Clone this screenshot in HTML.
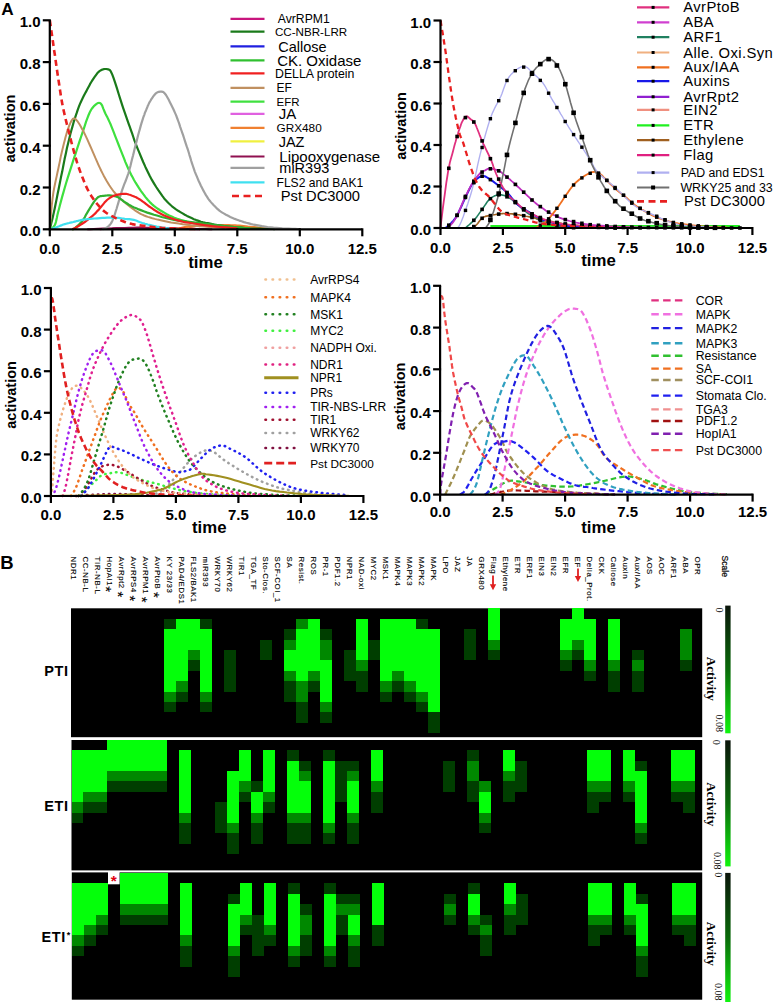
<!DOCTYPE html><html><head><meta charset="utf-8"><title>Figure</title>
<style>html,body{margin:0;padding:0;background:#fff;width:774px;height:1002px;overflow:hidden}svg{display:block}</style></head><body>
<svg width="774" height="1002" viewBox="0 0 774 1002">
<rect width="774" height="1002" fill="#fff"/>
<text x="1.2" y="14.6" font-size="17.2" font-weight="bold" font-family="Liberation Sans, sans-serif">A</text>
<path d="M99.8,229.3 L102.5,229.1 L106.3,228.9 L110.7,228.7 L115.5,228.4 L120.3,228.2 L124.8,228.0 L129.0,228.0 L133.1,227.9 L137.3,227.9 L141.5,228.0 L145.6,228.0 L149.8,228.0 L154.0,228.1 L158.1,228.2 L162.3,228.3 L166.5,228.4 L170.6,228.6 L174.8,228.7 L179.3,228.8 L184.1,228.9 L188.9,229.0 L193.3,229.1 L197.1,229.2 L199.8,229.3" fill="none" stroke="#c0207a" stroke-width="2.00" stroke-linejoin="round" stroke-linecap="butt"/>
<path d="M87.3,229.3 L90.0,229.2 L93.8,229.0 L98.2,228.8 L103.0,228.6 L107.8,228.4 L112.3,228.3 L116.5,228.1 L120.6,228.0 L124.8,227.9 L129.0,227.7 L133.1,227.7 L137.3,227.6 L141.5,227.6 L145.6,227.7 L149.8,227.8 L154.0,227.9 L158.1,228.0 L162.3,228.0 L166.5,228.1 L170.6,228.2 L174.8,228.3 L179.0,228.5 L183.1,228.6 L187.3,228.7 L191.8,228.8 L196.6,228.9 L201.4,229.0 L205.8,229.1 L209.6,229.2 L212.3,229.3" fill="none" stroke="#901050" stroke-width="2.00" stroke-linejoin="round" stroke-linecap="butt"/>
<path d="M174.8,229.3 L175.8,229.1 L177.2,228.7 L178.9,228.4 L180.7,228.0 L182.7,227.6 L184.8,227.2 L187.0,226.9 L189.5,226.6 L192.1,226.3 L194.8,226.0 L197.4,225.7 L199.8,225.5 L202.0,225.4 L204.2,225.3 L206.2,225.2 L208.2,225.2 L210.2,225.2 L212.3,225.1 L214.4,225.1 L216.5,225.1 L218.6,225.1 L220.6,225.1 L222.7,225.1 L224.8,225.1 L226.9,225.2 L229.0,225.2 L231.1,225.3 L233.1,225.3 L235.2,225.4 L237.3,225.5 L239.4,225.7 L241.5,225.9 L243.6,226.1 L245.6,226.3 L247.7,226.6 L249.8,226.8 L251.9,227.0 L254.0,227.2 L256.1,227.4 L258.1,227.7 L260.2,227.9 L262.3,228.0 L264.5,228.2 L266.9,228.4 L269.3,228.5 L271.6,228.7 L273.4,228.8 L274.8,228.9" fill="none" stroke="#f08030" stroke-width="2.20" stroke-linejoin="round" stroke-linecap="butt"/>
<path d="M49.8,229.3 L50.2,227.6 L50.8,225.4 L51.4,222.8 L52.2,219.7 L53.0,216.3 L53.8,212.6 L54.7,208.5 L55.6,204.0 L56.6,199.1 L57.6,194.0 L58.7,188.7 L59.8,183.3 L60.9,177.6 L62.2,171.6 L63.4,165.3 L64.6,159.1 L65.9,153.2 L67.0,147.8 L68.2,142.9 L69.3,138.4 L70.3,134.2 L71.4,130.2 L72.5,126.4 L73.5,122.7 L74.6,119.2 L75.7,115.8 L76.8,112.7 L77.8,109.6 L78.9,106.7 L80.0,103.9 L81.2,101.2 L82.5,98.6 L83.7,96.1 L84.9,93.7 L86.2,91.4 L87.3,89.3 L88.4,87.3 L89.4,85.4 L90.3,83.6 L91.3,82.0 L92.3,80.4 L93.3,78.8 L94.3,77.3 L95.4,75.8 L96.5,74.3 L97.5,73.0 L98.7,71.8 L99.8,70.9 L101.0,70.2 L102.3,69.6 L103.6,69.2 L104.9,69.0 L106.2,69.0 L107.3,69.2 L108.2,69.4 L109.0,69.6 L109.7,70.0 L110.4,70.8 L111.2,72.3 L112.3,74.6 L113.6,78.2 L115.2,82.9 L116.9,88.2 L118.6,93.7 L120.3,99.1 L121.8,103.9 L123.2,108.1 L124.6,112.1 L125.9,115.9 L127.2,119.6 L128.5,123.3 L129.8,126.9 L131.0,130.4 L132.2,133.7 L133.3,137.0 L134.4,140.4 L135.8,143.9 L137.3,147.8 L139.1,152.2 L141.1,157.0 L143.2,162.0 L145.4,166.9 L147.7,171.7 L149.8,176.0 L151.9,179.9 L154.1,183.6 L156.2,187.0 L158.3,190.2 L160.4,193.2 L162.3,195.9 L164.0,198.2 L165.6,200.1 L167.2,201.8 L168.7,203.3 L170.3,204.8 L172.0,206.3 L174.0,207.8 L176.0,209.3 L178.2,210.8 L180.4,212.1 L182.6,213.4 L184.8,214.7 L187.0,215.9 L189.3,217.0 L191.6,218.1 L193.9,219.2 L196.2,220.1 L198.6,220.9 L200.9,221.7 L203.2,222.3 L205.5,222.8 L207.8,223.2 L210.1,223.6 L212.3,224.1 L214.3,224.5 L216.1,224.8 L217.8,225.2 L219.8,225.5 L222.0,225.8 L224.8,226.2 L228.2,226.5 L232.2,226.9 L236.5,227.3 L241.0,227.7 L245.5,228.0 L249.8,228.3 L254.3,228.5 L259.1,228.7 L263.9,228.8 L268.3,228.9 L272.1,229.0 L274.8,229.1" fill="none" stroke="#1a7a1a" stroke-width="2.20" stroke-linejoin="round" stroke-linecap="butt"/>
<path d="M49.8,229.3 L50.4,228.9 L51.2,228.5 L52.1,228.0 L53.1,227.3 L54.0,226.3 L54.8,225.1 L55.4,223.7 L55.9,222.0 L56.3,220.2 L56.8,218.0 L57.3,215.5 L58.0,212.6 L58.9,209.2 L59.9,205.3 L61.0,201.1 L62.2,196.6 L63.5,192.1 L64.8,187.5 L66.2,182.8 L67.7,177.9 L69.3,172.9 L70.9,167.8 L72.5,162.9 L74.0,158.2 L75.5,153.8 L76.9,149.4 L78.3,145.2 L79.6,141.1 L81.0,137.0 L82.3,133.2 L83.6,129.3 L84.9,125.4 L86.1,121.7 L87.4,118.1 L88.6,115.0 L89.8,112.3 L91.0,110.0 L92.2,108.2 L93.4,106.8 L94.5,105.6 L95.6,104.7 L96.5,103.9 L97.4,103.3 L98.2,103.0 L99.0,102.9 L99.7,103.0 L100.4,103.3 L101.0,103.9 L101.7,104.8 L102.3,105.9 L102.8,107.3 L103.4,108.9 L104.1,110.5 L104.8,112.3 L105.6,114.0 L106.5,115.7 L107.5,117.6 L108.5,119.7 L109.6,122.1 L110.8,124.8 L112.1,128.1 L113.6,131.8 L115.1,135.8 L116.7,139.9 L118.3,144.0 L119.8,147.8 L121.2,151.4 L122.7,155.1 L124.1,158.6 L125.4,162.1 L126.9,165.5 L128.3,168.7 L129.7,171.7 L131.1,174.6 L132.6,177.3 L134.0,180.0 L135.6,182.7 L137.3,185.4 L139.2,188.3 L141.2,191.3 L143.3,194.2 L145.5,197.1 L147.7,199.8 L149.8,202.1 L151.9,204.1 L153.9,205.9 L155.9,207.4 L157.9,208.8 L160.1,210.2 L162.3,211.5 L164.6,212.9 L166.8,214.2 L169.2,215.5 L171.7,216.6 L174.3,217.8 L177.3,218.9 L180.6,219.9 L184.2,220.8 L187.9,221.7 L191.8,222.6 L195.8,223.3 L199.8,224.1 L203.8,224.7 L207.9,225.3 L212.1,225.9 L216.4,226.4 L220.6,226.8 L224.8,227.2 L229.3,227.6 L234.1,227.9 L238.9,228.1 L243.3,228.4 L247.1,228.5 L249.8,228.7" fill="none" stroke="#3ee03e" stroke-width="2.20" stroke-linejoin="round" stroke-linecap="butt"/>
<path d="M49.8,229.3 L49.9,227.5 L50.1,225.1 L50.3,222.2 L50.5,219.1 L50.8,215.8 L51.0,212.6 L51.4,209.4 L51.7,206.0 L52.1,202.5 L52.5,199.0 L53.0,195.3 L53.5,191.7 L54.2,187.9 L55.0,184.0 L55.8,180.1 L56.7,176.1 L57.5,172.3 L58.3,168.7 L59.0,165.3 L59.7,162.1 L60.3,159.0 L60.9,155.9 L61.6,152.9 L62.3,149.9 L63.1,146.7 L63.9,143.5 L64.7,140.4 L65.5,137.3 L66.3,134.4 L67.0,131.9 L67.8,129.7 L68.5,127.7 L69.1,125.9 L69.8,124.3 L70.4,122.9 L71.0,121.7 L71.6,120.6 L72.2,119.7 L72.7,119.1 L73.3,118.6 L73.9,118.4 L74.5,118.5 L75.3,118.9 L76.1,119.6 L76.9,120.6 L77.8,121.7 L78.8,123.2 L79.8,124.8 L80.9,126.7 L82.1,128.9 L83.4,131.3 L84.7,133.9 L86.0,136.7 L87.3,139.4 L88.6,142.4 L90.0,145.5 L91.5,148.8 L92.9,152.1 L94.3,155.3 L95.5,158.2 L96.7,160.9 L97.8,163.4 L98.9,165.8 L100.0,168.1 L101.1,170.5 L102.3,172.9 L103.6,175.4 L105.0,177.9 L106.4,180.4 L107.9,182.9 L109.3,185.3 L110.8,187.5 L112.2,189.5 L113.6,191.3 L115.0,193.0 L116.5,194.6 L118.1,196.3 L119.8,198.0 L121.7,199.7 L123.8,201.6 L126.0,203.4 L128.2,205.2 L130.3,206.9 L132.3,208.4 L134.1,209.7 L135.7,210.9 L137.3,211.9 L138.9,212.9 L140.5,213.8 L142.3,214.7 L144.2,215.5 L146.0,216.2 L147.9,216.9 L150.0,217.5 L152.3,218.2 L154.8,218.9 L157.6,219.6 L160.7,220.3 L164.0,221.0 L167.5,221.7 L171.1,222.4 L174.8,223.0 L178.7,223.6 L182.8,224.2 L187.0,224.7 L191.3,225.3 L195.6,225.7 L199.8,226.2 L204.3,226.6 L209.1,227.0 L213.9,227.3 L218.3,227.6 L222.1,227.9 L224.8,228.0" fill="none" stroke="#c09060" stroke-width="2.00" stroke-linejoin="round" stroke-linecap="butt"/>
<path d="M102.3,229.3 L102.8,229.1 L103.6,228.9 L104.5,228.6 L105.4,228.3 L106.4,227.8 L107.3,227.2 L108.1,226.5 L109.0,225.7 L109.8,224.9 L110.6,223.8 L111.5,222.5 L112.3,220.9 L113.1,219.0 L114.0,216.8 L114.8,214.3 L115.6,211.7 L116.5,209.0 L117.3,206.3 L118.1,203.6 L118.9,200.9 L119.7,198.0 L120.6,195.2 L121.4,192.4 L122.3,189.6 L123.3,186.9 L124.3,184.1 L125.4,181.5 L126.4,178.8 L127.4,176.1 L128.3,173.5 L129.1,171.0 L129.7,168.5 L130.4,166.1 L131.0,163.6 L131.6,161.0 L132.3,158.2 L133.1,155.2 L133.9,151.9 L134.7,148.5 L135.6,145.0 L136.5,141.6 L137.3,138.4 L138.1,135.2 L139.0,132.0 L139.9,128.9 L140.7,125.9 L141.5,123.1 L142.3,120.6 L143.0,118.4 L143.6,116.5 L144.3,114.8 L144.8,113.2 L145.4,111.7 L146.1,110.2 L146.7,108.6 L147.3,107.2 L147.8,105.8 L148.5,104.4 L149.1,103.1 L149.8,101.8 L150.6,100.5 L151.4,99.1 L152.3,97.8 L153.1,96.6 L154.0,95.4 L154.8,94.5 L155.5,93.7 L156.2,93.1 L156.9,92.6 L157.6,92.2 L158.3,91.9 L159.1,91.8 L159.9,91.7 L160.8,91.6 L161.7,91.6 L162.7,91.8 L163.7,92.4 L164.8,93.5 L166.0,95.0 L167.3,97.2 L168.6,99.6 L169.9,102.2 L171.2,104.8 L172.3,107.0 L173.3,109.0 L174.1,110.8 L174.9,112.6 L175.7,114.4 L176.5,116.3 L177.3,118.5 L178.2,121.0 L179.2,123.7 L180.1,126.6 L181.1,129.5 L182.1,132.4 L183.1,135.2 L184.0,138.0 L184.9,140.8 L185.8,143.6 L186.7,146.4 L187.7,149.2 L188.6,152.0 L189.4,154.8 L190.3,157.6 L191.1,160.5 L192.0,163.3 L192.9,166.0 L193.8,168.7 L194.7,171.3 L195.7,173.8 L196.7,176.2 L197.7,178.6 L198.7,181.0 L199.8,183.3 L200.9,185.7 L202.1,188.1 L203.3,190.4 L204.6,192.7 L205.8,194.9 L207.1,196.9 L208.3,198.8 L209.6,200.5 L210.9,202.1 L212.2,203.6 L213.5,205.0 L214.8,206.3 L216.0,207.5 L217.1,208.6 L218.3,209.6 L219.4,210.6 L220.8,211.6 L222.3,212.6 L224.1,213.6 L226.0,214.7 L228.1,215.8 L230.3,216.9 L232.6,217.9 L234.8,218.9 L237.0,219.7 L239.3,220.6 L241.6,221.3 L243.9,222.1 L246.3,222.8 L248.8,223.4 L251.3,224.1 L253.9,224.7 L256.6,225.2 L259.3,225.7 L262.0,226.2 L264.8,226.6 L267.6,227.0 L270.5,227.3 L273.5,227.6 L276.4,227.8 L279.4,228.0 L282.3,228.3 L285.4,228.5 L288.8,228.6 L292.1,228.8 L295.3,228.9 L297.9,229.0 L299.8,229.1" fill="none" stroke="#a0a0a0" stroke-width="2.20" stroke-linejoin="round" stroke-linecap="butt"/>
<path d="M72.3,229.3 L72.5,229.3 L72.8,229.3 L73.1,229.2 L73.5,229.1 L74.1,228.8 L74.8,228.3 L75.8,227.4 L77.0,226.3 L78.4,225.1 L79.8,223.7 L81.1,222.3 L82.3,220.9 L83.3,219.6 L84.1,218.3 L84.9,217.0 L85.6,215.6 L86.4,214.1 L87.3,212.6 L88.3,210.9 L89.4,209.1 L90.6,207.2 L91.7,205.3 L92.8,203.6 L93.8,202.1 L94.7,200.9 L95.5,199.8 L96.3,198.9 L97.0,198.1 L97.7,197.5 L98.5,196.9 L99.4,196.5 L100.2,196.2 L101.1,196.1 L102.0,196.0 L102.9,195.9 L103.8,195.9 L104.7,195.7 L105.7,195.6 L106.7,195.5 L107.7,195.4 L108.7,195.4 L109.8,195.4 L111.0,195.5 L112.2,195.7 L113.5,195.8 L114.7,196.1 L116.0,196.4 L117.3,196.9 L118.5,197.6 L119.7,198.4 L120.9,199.3 L122.2,200.2 L123.4,201.2 L124.8,202.1 L126.2,203.0 L127.5,203.8 L128.9,204.7 L130.4,205.5 L132.1,206.4 L134.1,207.4 L136.3,208.3 L138.8,209.4 L141.4,210.4 L144.3,211.5 L147.3,212.6 L150.6,213.6 L154.0,214.7 L157.8,215.8 L161.7,217.0 L165.8,218.0 L169.9,219.0 L174.1,219.9 L178.2,220.6 L182.5,221.2 L186.8,221.7 L191.2,222.1 L195.5,222.5 L199.8,223.0 L204.0,223.6 L208.2,224.1 L212.3,224.7 L216.5,225.2 L220.6,225.7 L224.8,226.2 L229.3,226.6 L234.1,227.0 L238.9,227.4 L243.3,227.8 L247.1,228.0 L249.8,228.3" fill="none" stroke="#30b030" stroke-width="2.20" stroke-linejoin="round" stroke-linecap="butt"/>
<path d="M72.3,229.3 L72.7,229.1 L73.3,228.9 L73.9,228.6 L74.7,228.2 L75.6,227.8 L76.5,227.2 L77.7,226.5 L79.0,225.8 L80.4,224.9 L81.8,224.0 L83.3,223.0 L84.8,222.0 L86.3,220.9 L87.9,219.7 L89.4,218.4 L91.0,217.1 L92.5,215.9 L93.8,214.7 L95.0,213.6 L96.0,212.6 L96.9,211.6 L97.8,210.6 L98.8,209.6 L99.8,208.4 L100.9,207.1 L102.1,205.6 L103.3,204.1 L104.5,202.6 L105.8,201.2 L107.0,200.0 L108.3,199.0 L109.5,198.1 L110.8,197.3 L112.1,196.6 L113.4,196.0 L114.8,195.4 L116.3,195.0 L117.8,194.6 L119.4,194.3 L121.0,194.0 L122.5,193.9 L123.8,193.8 L125.0,193.8 L126.0,193.8 L126.9,194.0 L127.8,194.2 L128.7,194.5 L129.8,194.8 L131.0,195.2 L132.2,195.7 L133.5,196.2 L134.8,196.8 L136.1,197.3 L137.3,198.0 L138.4,198.6 L139.4,199.2 L140.5,199.9 L141.5,200.6 L142.5,201.4 L143.6,202.1 L144.7,202.9 L145.8,203.8 L146.9,204.7 L148.1,205.6 L149.3,206.5 L150.6,207.4 L151.8,208.2 L153.1,209.1 L154.4,210.0 L155.8,210.9 L157.2,211.8 L158.5,212.6 L159.9,213.3 L161.3,214.1 L162.6,214.7 L164.1,215.4 L165.6,216.1 L167.3,216.8 L169.2,217.5 L171.2,218.2 L173.4,219.0 L175.6,219.7 L177.8,220.4 L179.8,220.9 L181.6,221.4 L183.2,221.8 L184.7,222.1 L186.4,222.3 L188.4,222.6 L190.8,223.0 L193.7,223.5 L197.1,224.0 L200.7,224.6 L204.5,225.2 L208.4,225.7 L212.3,226.2 L216.6,226.6 L221.3,227.0 L226.1,227.4 L230.7,227.8 L234.5,228.0 L237.3,228.3" fill="none" stroke="#f02020" stroke-width="2.20" stroke-linejoin="round" stroke-linecap="butt"/>
<path d="M49.8,229.3 L50.5,229.1 L51.5,228.8 L52.7,228.5 L53.9,228.1 L55.3,227.6 L56.5,227.2 L57.8,226.7 L59.2,226.2 L60.6,225.6 L62.0,225.1 L63.4,224.5 L64.8,224.1 L66.2,223.7 L67.6,223.3 L69.0,223.0 L70.4,222.6 L71.9,222.3 L73.3,222.0 L74.8,221.6 L76.3,221.2 L77.8,220.9 L79.4,220.5 L80.9,220.2 L82.3,219.9 L83.6,219.7 L84.8,219.5 L86.0,219.3 L87.2,219.2 L88.6,219.0 L90.3,218.9 L92.4,218.7 L94.7,218.5 L97.3,218.3 L99.9,218.1 L102.4,217.9 L104.8,217.8 L107.0,217.7 L109.2,217.7 L111.3,217.7 L113.4,217.7 L115.3,217.7 L117.0,217.8 L118.6,217.9 L119.9,218.1 L121.1,218.3 L122.3,218.5 L123.5,218.7 L124.8,218.9 L126.2,219.0 L127.7,219.1 L129.3,219.2 L130.8,219.4 L132.3,219.6 L133.8,219.9 L135.2,220.3 L136.7,220.8 L138.1,221.4 L139.5,222.0 L140.9,222.5 L142.3,223.0 L143.7,223.4 L145.0,223.8 L146.4,224.1 L147.7,224.5 L149.1,224.8 L150.6,225.1 L152.1,225.5 L153.6,225.9 L155.2,226.2 L156.8,226.6 L158.3,226.9 L159.8,227.2 L161.2,227.4 L162.4,227.6 L163.7,227.8 L164.9,227.9 L166.1,228.1 L167.3,228.3 L168.6,228.4 L170.1,228.6 L171.5,228.8 L172.9,229.0 L174.0,229.2 L174.8,229.3" fill="none" stroke="#40e0f0" stroke-width="2.20" stroke-linejoin="round" stroke-linecap="butt"/>
<path d="M49.8,20.3 L50.3,23.5 L50.9,27.9 L51.7,33.1 L52.5,38.7 L53.3,44.3 L54.0,49.6 L54.8,54.5 L55.5,59.5 L56.2,64.5 L56.9,69.4 L57.6,74.2 L58.3,78.8 L59.0,83.3 L59.6,87.6 L60.3,91.9 L60.9,96.0 L61.6,100.0 L62.3,103.9 L63.0,107.5 L63.7,110.7 L64.4,113.8 L65.1,117.1 L66.0,120.6 L67.0,124.8 L68.3,129.8 L69.8,135.6 L71.3,141.7 L72.9,147.7 L74.4,153.4 L75.8,158.2 L77.0,162.3 L78.1,165.7 L79.2,168.8 L80.2,171.6 L81.2,174.3 L82.3,177.1 L83.4,179.8 L84.4,182.3 L85.4,184.8 L86.5,187.1 L87.6,189.4 L88.8,191.7 L90.1,193.9 L91.5,196.2 L92.9,198.3 L94.3,200.4 L95.8,202.4 L97.3,204.2 L98.8,205.9 L100.2,207.5 L101.6,209.0 L103.1,210.4 L104.8,211.7 L106.5,213.0 L108.5,214.3 L110.7,215.5 L113.0,216.7 L115.3,217.9 L117.6,218.9 L119.8,219.9 L121.8,220.8 L123.7,221.5 L125.5,222.2 L127.4,222.9 L129.6,223.5 L132.3,224.1 L135.5,224.7 L139.2,225.3 L143.1,225.8 L147.1,226.3 L151.1,226.8 L154.8,227.2 L158.2,227.5 L161.5,227.8 L164.6,228.0 L167.9,228.2 L171.2,228.3 L174.8,228.5 L179.0,228.6 L183.7,228.7 L188.6,228.9 L193.1,229.0 L197.0,229.0 L199.8,229.1" fill="none" stroke="#e82020" stroke-width="2.60" stroke-linejoin="round" stroke-linecap="butt" stroke-dasharray="6,4"/>
<path d="M49.8,20.3 L49.8,229.3 L362.3,229.3" fill="none" stroke="#000" stroke-width="2.2"/>
<line x1="42.8" y1="229.3" x2="50.8" y2="229.3" stroke="#000" stroke-width="2.2"/>
<text x="40.5" y="236.3" font-size="15" font-weight="bold" text-anchor="end" font-family="Liberation Sans, sans-serif">0.0</text>
<line x1="42.8" y1="187.5" x2="50.8" y2="187.5" stroke="#000" stroke-width="2.2"/>
<text x="40.5" y="194.5" font-size="15" font-weight="bold" text-anchor="end" font-family="Liberation Sans, sans-serif">0.2</text>
<line x1="42.8" y1="145.7" x2="50.8" y2="145.7" stroke="#000" stroke-width="2.2"/>
<text x="40.5" y="152.7" font-size="15" font-weight="bold" text-anchor="end" font-family="Liberation Sans, sans-serif">0.4</text>
<line x1="42.8" y1="103.9" x2="50.8" y2="103.9" stroke="#000" stroke-width="2.2"/>
<text x="40.5" y="110.9" font-size="15" font-weight="bold" text-anchor="end" font-family="Liberation Sans, sans-serif">0.6</text>
<line x1="42.8" y1="62.1" x2="50.8" y2="62.1" stroke="#000" stroke-width="2.2"/>
<text x="40.5" y="69.1" font-size="15" font-weight="bold" text-anchor="end" font-family="Liberation Sans, sans-serif">0.8</text>
<line x1="42.8" y1="20.3" x2="50.8" y2="20.3" stroke="#000" stroke-width="2.2"/>
<text x="40.5" y="27.3" font-size="15" font-weight="bold" text-anchor="end" font-family="Liberation Sans, sans-serif">1.0</text>
<line x1="49.8" y1="228.3" x2="49.8" y2="236.3" stroke="#000" stroke-width="2.2"/>
<text x="49.8" y="253.8" font-size="15" font-weight="bold" text-anchor="middle" font-family="Liberation Sans, sans-serif">0.0</text>
<line x1="112.3" y1="228.3" x2="112.3" y2="236.3" stroke="#000" stroke-width="2.2"/>
<text x="112.3" y="253.8" font-size="15" font-weight="bold" text-anchor="middle" font-family="Liberation Sans, sans-serif">2.5</text>
<line x1="174.8" y1="228.3" x2="174.8" y2="236.3" stroke="#000" stroke-width="2.2"/>
<text x="174.8" y="253.8" font-size="15" font-weight="bold" text-anchor="middle" font-family="Liberation Sans, sans-serif">5.0</text>
<line x1="237.3" y1="228.3" x2="237.3" y2="236.3" stroke="#000" stroke-width="2.2"/>
<text x="237.3" y="253.8" font-size="15" font-weight="bold" text-anchor="middle" font-family="Liberation Sans, sans-serif">7.5</text>
<line x1="299.8" y1="228.3" x2="299.8" y2="236.3" stroke="#000" stroke-width="2.2"/>
<text x="299.8" y="253.8" font-size="15" font-weight="bold" text-anchor="middle" font-family="Liberation Sans, sans-serif">10.0</text>
<line x1="362.3" y1="228.3" x2="362.3" y2="236.3" stroke="#000" stroke-width="2.2"/>
<text x="362.3" y="253.8" font-size="15" font-weight="bold" text-anchor="middle" font-family="Liberation Sans, sans-serif">12.5</text>
<text x="205.5" y="268.0" font-size="16.8" font-weight="bold" text-anchor="middle" font-family="Liberation Sans, sans-serif">time</text>
<text transform="translate(14.5,128.5) rotate(-90)" font-size="14.5" font-weight="bold" text-anchor="middle" font-family="Liberation Sans, sans-serif">activation</text>
<line x1="230.5" y1="18.8" x2="264.5" y2="18.8" stroke="#c8157d" stroke-width="2.2"/>
<text x="277.8" y="23.2" font-size="12.2" font-family="Liberation Sans, sans-serif">AvrRPM1</text>
<line x1="230.5" y1="31.7" x2="264.5" y2="31.7" stroke="#1a7a1a" stroke-width="2.2"/>
<text x="275.0" y="35.9" font-size="11.6" font-family="Liberation Sans, sans-serif">CC-NBR-LRR</text>
<line x1="230.5" y1="46.4" x2="264.5" y2="46.4" stroke="#2020e0" stroke-width="2.2"/>
<text x="278.3" y="51.6" font-size="14.5" font-family="Liberation Sans, sans-serif">Callose</text>
<line x1="230.5" y1="60.4" x2="264.5" y2="60.4" stroke="#30c030" stroke-width="2.2"/>
<text x="277.2" y="65.8" font-size="15.0" font-family="Liberation Sans, sans-serif">CK. Oxidase</text>
<line x1="230.5" y1="73.4" x2="264.5" y2="73.4" stroke="#f02020" stroke-width="2.2"/>
<text x="275.0" y="77.8" font-size="12.3" font-family="Liberation Sans, sans-serif">DELLA protein</text>
<line x1="230.5" y1="87.8" x2="264.5" y2="87.8" stroke="#c09060" stroke-width="2.2"/>
<text x="276.5" y="92.1" font-size="12.0" font-family="Liberation Sans, sans-serif">EF</text>
<line x1="230.5" y1="101.7" x2="264.5" y2="101.7" stroke="#40e040" stroke-width="2.2"/>
<text x="276.5" y="105.8" font-size="11.5" font-family="Liberation Sans, sans-serif">EFR</text>
<line x1="230.5" y1="113.8" x2="264.5" y2="113.8" stroke="#e060e0" stroke-width="2.2"/>
<text x="278.7" y="119.2" font-size="15.0" font-family="Liberation Sans, sans-serif">JA</text>
<line x1="230.5" y1="127.8" x2="264.5" y2="127.8" stroke="#f08030" stroke-width="2.2"/>
<text x="276.5" y="132.0" font-size="11.8" font-family="Liberation Sans, sans-serif">GRX480</text>
<line x1="230.5" y1="141.4" x2="264.5" y2="141.4" stroke="#f0f040" stroke-width="2.2"/>
<text x="278.7" y="146.6" font-size="14.5" font-family="Liberation Sans, sans-serif">JAZ</text>
<line x1="230.5" y1="156.5" x2="264.5" y2="156.5" stroke="#901050" stroke-width="2.2"/>
<text x="279.3" y="161.9" font-size="15.0" font-family="Liberation Sans, sans-serif">Lipooxygenase</text>
<line x1="230.5" y1="167.9" x2="264.5" y2="167.9" stroke="#a0a0a0" stroke-width="2.2"/>
<text x="279.3" y="173.1" font-size="14.5" font-family="Liberation Sans, sans-serif">miR393</text>
<line x1="230.5" y1="182.4" x2="264.5" y2="182.4" stroke="#40e0f0" stroke-width="2.2"/>
<text x="276.5" y="186.8" font-size="12.1" font-family="Liberation Sans, sans-serif">FLS2 and BAK1</text>
<line x1="232.0" y1="196.0" x2="265.5" y2="196.0" stroke="#e82020" stroke-width="2.6" stroke-dasharray="7,4.5"/>
<text x="280.8" y="201.3" font-size="14.7" font-family="Liberation Sans, sans-serif">Pst DC3000</text>
<path d="M490.4,226.3 L739.9,226.3" fill="none" stroke="#20f020" stroke-width="2.60" stroke-linejoin="round" stroke-linecap="butt"/>
<path d="M465.4,228.0 L466.4,227.1 L467.8,225.9 L469.5,224.5 L471.2,222.9 L472.9,221.3 L474.4,219.7 L475.8,218.1 L477.1,216.4 L478.4,214.6 L479.6,212.9 L480.9,211.1 L482.2,209.3 L483.4,207.5 L484.7,205.6 L486.0,203.7 L487.2,201.9 L488.6,200.3 L489.9,198.9 L491.3,197.8 L492.7,196.9 L494.2,196.1 L495.7,195.5 L497.2,195.1 L498.6,194.8 L500.1,194.7 L501.5,194.9 L503.0,195.2 L504.5,195.6 L505.9,196.2 L507.4,196.9 L508.8,197.7 L510.4,198.6 L511.9,199.7 L513.3,200.9 L514.8,202.0 L516.1,203.1 L517.3,204.1 L518.4,205.2 L519.5,206.2 L520.5,207.2 L521.6,208.3 L522.8,209.3 L524.1,210.4 L525.5,211.4 L526.9,212.5 L528.4,213.6 L529.9,214.6 L531.3,215.6 L532.7,216.5 L534.1,217.4 L535.6,218.3 L537.0,219.1 L538.6,219.9 L540.3,220.7 L542.2,221.5 L544.2,222.3 L546.3,223.0 L548.5,223.7 L550.7,224.3 L552.8,224.9 L554.9,225.4 L556.9,225.8 L559.0,226.1 L561.1,226.4 L563.2,226.7 L565.2,227.0 L567.5,227.2 L569.9,227.4 L572.3,227.6 L574.5,227.8 L576.4,227.9 L577.7,228.0" fill="none" stroke="#208060" stroke-width="1.60" stroke-linejoin="round" stroke-linecap="butt"/>
<path d="M470.4,228.0 L471.0,227.8 L471.7,227.7 L472.5,227.5 L473.4,227.2 L474.4,226.7 L475.4,225.9 L476.5,224.8 L477.7,223.4 L478.9,221.8 L480.1,220.2 L481.4,218.7 L482.7,217.6 L483.9,216.9 L485.3,216.4 L486.6,216.1 L487.9,215.9 L489.2,215.8 L490.4,215.6 L491.5,215.3 L492.6,215.1 L493.6,214.8 L494.6,214.7 L495.7,214.5 L496.9,214.3 L498.2,214.1 L499.5,213.9 L500.9,213.8 L502.4,213.6 L503.8,213.5 L505.4,213.5 L507.0,213.5 L508.7,213.6 L510.4,213.8 L512.2,213.9 L513.8,214.1 L515.4,214.3 L516.7,214.5 L517.9,214.7 L519.1,214.8 L520.2,215.1 L521.5,215.3 L522.8,215.6 L524.4,215.8 L526.0,216.2 L527.7,216.5 L529.4,216.9 L531.1,217.3 L532.8,217.6 L534.4,218.0 L536.0,218.3 L537.6,218.6 L539.3,219.0 L541.0,219.3 L542.8,219.7 L544.7,220.1 L546.7,220.5 L548.7,220.9 L550.8,221.3 L553.0,221.8 L555.3,222.2 L557.6,222.6 L559.9,223.1 L562.3,223.6 L564.8,224.0 L567.4,224.5 L570.2,224.9 L573.2,225.3 L576.3,225.6 L579.6,225.9 L583.0,226.2 L586.5,226.5 L590.2,226.8 L594.4,227.0 L599.1,227.1 L603.9,227.3 L608.5,227.4 L612.4,227.5 L615.1,227.6" fill="none" stroke="#a06020" stroke-width="1.60" stroke-linejoin="round" stroke-linecap="butt"/>
<path d="M445.5,228.0 L446.0,227.6 L446.7,227.1 L447.6,226.4 L448.5,225.7 L449.5,224.8 L450.5,223.8 L451.4,222.8 L452.4,221.8 L453.5,220.6 L454.6,219.2 L455.7,217.6 L457.0,215.6 L458.3,213.0 L459.7,209.9 L461.3,206.6 L462.8,203.2 L464.3,199.9 L465.7,196.9 L467.0,194.1 L468.3,191.4 L469.6,188.8 L470.8,186.4 L472.1,184.2 L473.4,182.3 L474.8,180.7 L476.3,179.3 L477.8,178.1 L479.3,177.2 L480.8,176.5 L482.2,176.1 L483.5,176.1 L484.7,176.3 L486.0,176.8 L487.2,177.5 L488.5,178.4 L489.9,179.2 L491.4,180.2 L493.1,181.4 L494.8,182.7 L496.5,184.0 L498.1,185.3 L499.6,186.5 L501.0,187.5 L502.3,188.5 L503.6,189.4 L504.8,190.4 L506.0,191.5 L507.4,192.7 L508.8,194.3 L510.3,196.1 L511.8,198.0 L513.3,199.9 L514.7,201.6 L516.1,203.1 L517.3,204.3 L518.4,205.2 L519.5,206.0 L520.5,206.8 L521.6,207.5 L522.8,208.3 L524.1,209.2 L525.5,210.0 L526.9,210.9 L528.4,211.7 L529.9,212.6 L531.3,213.5 L532.8,214.4 L534.3,215.3 L535.8,216.2 L537.3,217.1 L538.8,217.9 L540.3,218.7 L541.7,219.3 L542.9,219.8 L544.1,220.3 L545.4,220.8 L546.9,221.2 L548.8,221.8 L551.0,222.4 L553.4,223.1 L556.0,223.7 L558.8,224.4 L561.9,225.0 L565.2,225.5 L568.9,225.9 L572.9,226.2 L577.2,226.5 L581.6,226.8 L585.9,227.0 L590.2,227.2 L594.6,227.4 L599.4,227.5 L604.2,227.7 L608.7,227.8 L612.4,227.9 L615.1,228.0" fill="none" stroke="#1818e8" stroke-width="2.00" stroke-linejoin="round" stroke-linecap="butt"/>
<path d="M446.7,228.0 L447.3,227.6 L448.0,227.1 L448.9,226.5 L449.8,225.7 L450.8,224.9 L451.7,223.8 L452.6,222.8 L453.5,221.6 L454.4,220.3 L455.3,218.8 L456.4,217.1 L457.5,214.9 L458.7,212.3 L460.0,209.1 L461.4,205.7 L462.9,202.2 L464.3,198.9 L465.7,195.8 L467.1,193.1 L468.4,190.4 L469.8,187.9 L471.1,185.5 L472.4,183.3 L473.7,181.3 L474.9,179.5 L476.1,177.9 L477.3,176.4 L478.4,175.1 L479.4,174.0 L480.4,173.0 L481.3,172.2 L482.2,171.7 L482.9,171.2 L483.7,170.9 L484.4,170.6 L485.2,170.3 L485.9,169.9 L486.5,169.5 L487.1,169.2 L487.8,168.9 L488.6,168.7 L489.7,168.7 L490.9,168.7 L492.3,168.9 L493.9,169.2 L495.5,169.6 L497.1,170.1 L498.6,170.7 L500.1,171.6 L501.6,172.6 L503.0,173.7 L504.5,174.9 L505.9,176.2 L507.4,177.4 L508.8,178.6 L510.3,179.8 L511.7,181.1 L513.2,182.4 L514.6,183.7 L516.1,185.0 L517.6,186.5 L519.2,187.9 L520.7,189.4 L522.3,190.9 L523.8,192.4 L525.3,193.8 L526.8,195.1 L528.1,196.4 L529.5,197.7 L530.8,199.0 L532.2,200.2 L533.6,201.4 L535.0,202.6 L536.4,203.8 L537.9,204.9 L539.4,206.0 L540.8,207.0 L542.3,208.1 L543.7,209.1 L545.0,210.0 L546.2,210.9 L547.6,211.8 L549.2,212.7 L551.0,213.7 L553.2,214.7 L555.5,215.8 L558.0,217.0 L560.7,218.1 L563.5,219.2 L566.5,220.1 L569.6,221.0 L572.9,221.8 L576.4,222.6 L580.0,223.3 L583.7,223.9 L587.7,224.5 L591.9,225.0 L596.5,225.4 L601.2,225.7 L606.0,226.0 L610.6,226.3 L615.1,226.5 L619.5,226.8 L623.7,226.9 L627.8,227.1 L631.9,227.2 L636.0,227.3 L640.1,227.4 L643.7,227.5 L646.6,227.6 L649.5,227.6 L653.0,227.7 L658.0,227.7 L665.0,227.8 L675.5,227.8 L689.1,227.9 L704.0,227.9 L718.6,228.0 L731.2,228.0 L739.9,228.0" fill="none" stroke="#c030c0" stroke-width="1.80" stroke-linejoin="round" stroke-linecap="butt"/>
<path d="M535.3,228.0 L536.1,227.6 L537.3,227.0 L538.7,226.2 L540.1,225.5 L541.5,224.6 L542.8,223.8 L543.8,223.1 L544.8,222.4 L545.7,221.7 L546.6,220.9 L547.6,219.9 L548.8,218.7 L550.1,217.1 L551.6,215.4 L553.1,213.4 L554.7,211.4 L556.3,209.3 L557.8,207.2 L559.2,205.2 L560.7,203.1 L562.1,201.0 L563.5,198.8 L564.9,196.8 L566.2,194.8 L567.6,192.9 L568.8,191.1 L570.1,189.3 L571.4,187.6 L572.6,186.0 L574.0,184.4 L575.4,183.0 L576.8,181.7 L578.2,180.5 L579.7,179.3 L581.2,178.2 L582.7,177.2 L584.3,176.1 L586.0,175.0 L587.8,174.0 L589.5,173.1 L591.2,172.4 L592.7,172.0 L594.1,171.8 L595.4,171.9 L596.6,172.2 L597.8,172.7 L599.0,173.3 L600.2,174.1 L601.4,174.9 L602.6,176.0 L603.8,177.3 L605.1,178.6 L606.3,180.0 L607.7,181.3 L609.0,182.6 L610.4,184.0 L611.9,185.4 L613.4,186.8 L614.9,188.2 L616.4,189.6 L618.0,191.0 L619.6,192.3 L621.2,193.6 L622.9,194.9 L624.5,196.2 L626.1,197.5 L627.7,198.8 L629.1,200.1 L630.6,201.4 L632.1,202.7 L633.6,204.0 L635.1,205.2 L636.7,206.3 L638.4,207.4 L640.0,208.4 L641.7,209.5 L643.4,210.4 L645.1,211.4 L646.8,212.3 L648.5,213.3 L650.2,214.2 L651.9,215.1 L653.5,215.9 L655.1,216.6 L656.5,217.2 L657.8,217.8 L659.1,218.3 L660.4,218.7 L661.7,219.2 L663.3,219.7 L665.1,220.2 L667.0,220.8 L669.1,221.4 L671.1,221.9 L673.1,222.4 L675.0,222.8 L676.7,223.1 L678.2,223.4 L679.7,223.6 L681.2,223.8 L682.9,224.0 L685.0,224.3 L687.4,224.6 L690.0,224.9 L692.8,225.3 L695.8,225.7 L699.0,226.0 L702.5,226.3 L706.5,226.6 L711.2,226.9 L716.0,227.1 L720.7,227.3 L724.6,227.5 L727.4,227.6" fill="none" stroke="#f07020" stroke-width="1.80" stroke-linejoin="round" stroke-linecap="butt"/>
<path d="M455.5,228.0 L455.8,227.9 L456.3,228.0 L457.0,227.9 L457.6,227.7 L458.4,227.1 L459.2,225.9 L460.1,224.2 L461.1,222.0 L462.1,219.5 L463.2,216.7 L464.3,213.6 L465.4,210.4 L466.6,207.0 L467.9,203.4 L469.1,199.5 L470.4,195.5 L471.7,191.1 L472.9,186.5 L474.1,181.5 L475.3,176.2 L476.5,170.7 L477.7,164.9 L479.0,159.1 L480.4,153.3 L482.0,147.2 L483.7,140.8 L485.5,134.4 L487.3,128.1 L489.1,122.2 L490.9,117.0 L492.6,112.6 L494.4,108.8 L496.1,105.4 L497.8,102.3 L499.4,99.3 L500.9,96.2 L502.1,93.2 L503.2,90.1 L504.2,87.3 L505.2,84.5 L506.2,82.0 L507.4,79.6 L508.7,77.5 L510.1,75.6 L511.6,73.9 L513.1,72.4 L514.6,71.1 L516.1,69.9 L517.6,68.8 L519.1,67.9 L520.7,67.2 L522.2,66.7 L523.7,66.5 L525.1,66.6 L526.4,67.1 L527.7,67.9 L528.9,69.1 L530.1,70.4 L531.4,71.8 L532.8,73.2 L534.4,74.6 L536.1,76.0 L537.8,77.5 L539.6,79.2 L541.3,80.9 L542.8,82.8 L544.2,84.8 L545.5,87.0 L546.7,89.3 L547.9,91.6 L549.0,94.0 L550.3,96.2 L551.5,98.4 L552.8,100.6 L554.1,102.7 L555.4,104.9 L556.7,107.1 L558.0,109.3 L559.4,111.7 L560.8,114.1 L562.3,116.5 L563.7,119.0 L565.1,121.4 L566.5,123.6 L567.8,125.7 L569.1,127.8 L570.3,129.7 L571.6,131.6 L572.9,133.6 L574.2,135.7 L575.7,137.8 L577.2,140.1 L578.7,142.4 L580.3,144.7 L581.8,147.0 L583.2,149.2 L584.5,151.2 L585.8,153.2 L587.0,155.2 L588.2,157.1 L589.5,159.0 L590.7,161.0 L591.9,162.9 L592.9,164.8 L593.9,166.8 L595.1,168.7 L596.5,170.8 L598.4,173.0 L600.8,175.4 L603.7,177.9 L606.8,180.5 L610.1,183.2 L613.3,185.9 L616.4,188.6 L619.4,191.4 L622.3,194.3 L625.2,197.3 L628.2,200.2 L631.0,202.9 L633.9,205.2 L636.6,207.0 L639.1,208.5 L641.7,209.8 L644.3,210.9 L647.0,212.1 L650.1,213.5 L653.5,215.0 L657.3,216.7 L661.2,218.5 L665.2,220.1 L669.0,221.6 L672.5,222.8 L675.6,223.7 L678.4,224.4 L681.1,224.9 L683.8,225.2 L686.7,225.6 L690.0,225.9 L694.0,226.3 L698.7,226.6 L703.6,226.8 L708.2,227.1 L712.1,227.2 L715.0,227.4" fill="none" stroke="#b0b0f0" stroke-width="1.40" stroke-linejoin="round" stroke-linecap="butt"/>
<path d="M485.4,228.0 L486.0,227.3 L486.7,226.4 L487.6,225.3 L488.6,223.8 L489.7,221.8 L490.9,219.1 L492.2,215.6 L493.6,211.4 L495.1,206.6 L496.7,201.5 L498.2,196.1 L499.6,190.7 L501.0,184.9 L502.2,178.7 L503.5,172.3 L504.8,165.8 L506.0,159.4 L507.4,153.3 L508.8,147.5 L510.2,141.7 L511.7,136.1 L513.2,130.6 L514.7,125.2 L516.1,120.1 L517.4,115.1 L518.7,110.3 L519.9,105.7 L521.1,101.3 L522.3,97.1 L523.6,93.1 L524.8,89.4 L526.1,86.0 L527.4,82.8 L528.6,79.8 L530.0,77.0 L531.3,74.4 L532.7,72.2 L534.2,70.2 L535.7,68.4 L537.3,66.8 L538.8,65.4 L540.3,64.1 L541.8,62.8 L543.2,61.5 L544.7,60.4 L546.1,59.5 L547.6,59.0 L549.0,58.9 L550.5,59.2 L552.0,60.0 L553.5,61.0 L554.9,62.4 L556.4,64.1 L557.8,66.2 L559.1,68.5 L560.4,71.2 L561.7,74.3 L563.0,77.6 L564.2,81.1 L565.5,84.8 L566.8,88.8 L568.0,93.2 L569.3,97.8 L570.5,102.5 L571.9,107.2 L573.2,111.8 L574.7,116.3 L576.2,120.9 L577.8,125.5 L579.4,130.1 L581.0,134.5 L582.5,138.8 L583.9,142.9 L585.3,147.0 L586.7,150.9 L588.0,154.7 L589.4,158.3 L590.7,161.6 L592.0,164.6 L593.3,167.4 L594.6,170.0 L595.8,172.4 L597.1,174.8 L598.4,177.2 L599.8,179.6 L601.1,181.9 L602.5,184.2 L603.9,186.5 L605.3,188.6 L606.7,190.7 L608.0,192.6 L609.4,194.4 L610.7,196.2 L612.1,197.8 L613.5,199.5 L614.9,201.0 L616.3,202.5 L617.7,203.9 L619.0,205.3 L620.5,206.6 L622.2,207.9 L624.1,209.3 L626.5,210.9 L629.2,212.5 L632.1,214.2 L635.0,215.8 L637.7,217.3 L640.1,218.5 L642.0,219.3 L643.6,220.0 L645.1,220.5 L646.5,220.9 L648.1,221.3 L650.1,221.8 L652.3,222.4 L654.7,223.0 L657.3,223.6 L660.1,224.2 L663.1,224.8 L666.3,225.3 L669.8,225.7 L673.6,226.1 L677.6,226.4 L681.7,226.7 L685.9,227.0 L690.0,227.2 L694.4,227.4 L699.1,227.5 L704.0,227.6 L708.4,227.7 L712.2,227.7 L715.0,227.8" fill="none" stroke="#707070" stroke-width="1.60" stroke-linejoin="round" stroke-linecap="butt"/>
<path d="M440.5,228.0 L440.7,225.9 L441.0,223.2 L441.4,219.9 L441.9,216.1 L442.4,211.9 L443.0,207.2 L443.7,201.9 L444.6,195.6 L445.5,188.9 L446.4,182.2 L447.4,176.0 L448.2,170.7 L449.1,166.5 L449.8,162.9 L450.6,159.8 L451.4,157.0 L452.2,154.2 L453.0,151.2 L453.8,148.1 L454.6,145.0 L455.5,142.0 L456.3,139.0 L457.2,136.2 L458.0,133.6 L458.7,131.1 L459.5,128.8 L460.3,126.6 L461.0,124.5 L461.7,122.7 L462.5,121.1 L463.2,119.8 L463.8,118.7 L464.5,117.8 L465.1,117.1 L465.8,116.6 L466.4,116.4 L467.1,116.4 L467.8,116.7 L468.4,117.2 L469.1,117.8 L469.8,118.5 L470.4,119.1 L471.1,119.6 L471.8,120.0 L472.5,120.5 L473.1,121.1 L473.8,121.7 L474.4,122.6 L475.0,123.6 L475.6,124.8 L476.2,126.1 L476.7,127.5 L477.3,129.0 L477.9,130.5 L478.5,132.0 L479.1,133.5 L479.7,135.1 L480.4,136.8 L481.2,138.8 L482.2,141.1 L483.4,143.8 L484.9,146.9 L486.5,150.3 L488.1,153.7 L489.6,156.9 L490.9,159.7 L491.9,162.1 L492.7,164.3 L493.3,166.3 L494.0,168.2 L494.6,170.0 L495.4,172.0 L496.2,174.0 L497.1,176.0 L498.0,178.0 L498.9,179.9 L499.9,181.9 L500.9,183.8 L502.0,185.7 L503.1,187.7 L504.3,189.6 L505.5,191.5 L506.7,193.2 L507.9,194.8 L509.1,196.2 L510.2,197.3 L511.4,198.4 L512.6,199.4 L513.9,200.4 L515.1,201.4 L516.4,202.6 L517.6,203.8 L518.9,204.9 L520.2,206.1 L521.5,207.2 L522.8,208.3 L524.1,209.2 L525.3,210.1 L526.5,210.9 L527.8,211.8 L529.4,212.7 L531.3,213.7 L533.8,214.9 L536.6,216.2 L539.7,217.6 L542.9,218.9 L546.1,220.1 L549.0,221.2 L551.7,221.9 L554.2,222.6 L556.7,223.0 L559.3,223.5 L562.1,223.9 L565.2,224.3 L568.9,224.7 L572.9,225.1 L577.2,225.4 L581.6,225.8 L585.9,226.1 L590.2,226.3 L594.4,226.6 L598.5,226.8 L602.7,227.0 L606.8,227.1 L611.0,227.3 L615.1,227.4 L619.6,227.5 L624.4,227.6 L629.2,227.6 L633.6,227.7 L637.4,227.8 L640.1,227.8" fill="none" stroke="#e0307f" stroke-width="1.80" stroke-linejoin="round" stroke-linecap="butt"/>
<rect x="472.0" y="218.5" width="3.6" height="3.6" fill="#000"/>
<rect x="480.3" y="207.6" width="3.6" height="3.6" fill="#000"/>
<rect x="488.6" y="196.9" width="3.6" height="3.6" fill="#000"/>
<rect x="496.9" y="193.0" width="3.6" height="3.6" fill="#000"/>
<rect x="505.2" y="195.0" width="3.6" height="3.6" fill="#000"/>
<rect x="513.6" y="200.8" width="3.6" height="3.6" fill="#000"/>
<rect x="521.9" y="208.1" width="3.6" height="3.6" fill="#000"/>
<rect x="530.2" y="214.1" width="3.6" height="3.6" fill="#000"/>
<rect x="538.5" y="218.9" width="3.6" height="3.6" fill="#000"/>
<rect x="546.8" y="221.7" width="3.6" height="3.6" fill="#000"/>
<rect x="555.1" y="223.8" width="3.6" height="3.6" fill="#000"/>
<rect x="563.5" y="225.2" width="3.6" height="3.6" fill="#000"/>
<rect x="571.8" y="225.9" width="3.6" height="3.6" fill="#000"/>
<rect x="472.0" y="224.8" width="3.6" height="3.6" fill="#000"/>
<rect x="480.3" y="216.5" width="3.6" height="3.6" fill="#000"/>
<rect x="488.6" y="213.8" width="3.6" height="3.6" fill="#000"/>
<rect x="496.9" y="212.3" width="3.6" height="3.6" fill="#000"/>
<rect x="505.2" y="211.8" width="3.6" height="3.6" fill="#000"/>
<rect x="513.6" y="212.5" width="3.6" height="3.6" fill="#000"/>
<rect x="521.9" y="213.9" width="3.6" height="3.6" fill="#000"/>
<rect x="530.2" y="215.7" width="3.6" height="3.6" fill="#000"/>
<rect x="538.5" y="217.4" width="3.6" height="3.6" fill="#000"/>
<rect x="546.8" y="219.1" width="3.6" height="3.6" fill="#000"/>
<rect x="555.1" y="220.7" width="3.6" height="3.6" fill="#000"/>
<rect x="563.5" y="222.2" width="3.6" height="3.6" fill="#000"/>
<rect x="571.8" y="223.4" width="3.6" height="3.6" fill="#000"/>
<rect x="580.1" y="224.2" width="3.6" height="3.6" fill="#000"/>
<rect x="588.4" y="225.0" width="3.6" height="3.6" fill="#000"/>
<rect x="596.7" y="225.2" width="3.6" height="3.6" fill="#000"/>
<rect x="605.0" y="225.5" width="3.6" height="3.6" fill="#000"/>
<rect x="613.4" y="225.8" width="3.6" height="3.6" fill="#000"/>
<rect x="447.0" y="223.4" width="3.6" height="3.6" fill="#000"/>
<rect x="455.3" y="213.4" width="3.6" height="3.6" fill="#000"/>
<rect x="463.6" y="195.6" width="3.6" height="3.6" fill="#000"/>
<rect x="472.0" y="180.3" width="3.6" height="3.6" fill="#000"/>
<rect x="480.3" y="174.4" width="3.6" height="3.6" fill="#000"/>
<rect x="488.6" y="177.8" width="3.6" height="3.6" fill="#000"/>
<rect x="496.9" y="184.0" width="3.6" height="3.6" fill="#000"/>
<rect x="505.2" y="190.7" width="3.6" height="3.6" fill="#000"/>
<rect x="513.6" y="200.4" width="3.6" height="3.6" fill="#000"/>
<rect x="521.9" y="207.0" width="3.6" height="3.6" fill="#000"/>
<rect x="530.2" y="212.1" width="3.6" height="3.6" fill="#000"/>
<rect x="538.5" y="216.9" width="3.6" height="3.6" fill="#000"/>
<rect x="546.8" y="219.9" width="3.6" height="3.6" fill="#000"/>
<rect x="555.1" y="221.8" width="3.6" height="3.6" fill="#000"/>
<rect x="563.5" y="223.7" width="3.6" height="3.6" fill="#000"/>
<rect x="571.8" y="224.3" width="3.6" height="3.6" fill="#000"/>
<rect x="580.1" y="224.8" width="3.6" height="3.6" fill="#000"/>
<rect x="588.4" y="225.4" width="3.6" height="3.6" fill="#000"/>
<rect x="596.7" y="225.6" width="3.6" height="3.6" fill="#000"/>
<rect x="605.0" y="225.9" width="3.6" height="3.6" fill="#000"/>
<rect x="613.4" y="226.2" width="3.6" height="3.6" fill="#000"/>
<rect x="455.3" y="213.6" width="3.6" height="3.6" fill="#000"/>
<rect x="463.6" y="194.6" width="3.6" height="3.6" fill="#000"/>
<rect x="472.0" y="179.4" width="3.6" height="3.6" fill="#000"/>
<rect x="480.3" y="170.3" width="3.6" height="3.6" fill="#000"/>
<rect x="488.6" y="167.0" width="3.6" height="3.6" fill="#000"/>
<rect x="496.9" y="169.0" width="3.6" height="3.6" fill="#000"/>
<rect x="505.2" y="175.3" width="3.6" height="3.6" fill="#000"/>
<rect x="513.6" y="182.6" width="3.6" height="3.6" fill="#000"/>
<rect x="521.9" y="190.4" width="3.6" height="3.6" fill="#000"/>
<rect x="530.2" y="198.2" width="3.6" height="3.6" fill="#000"/>
<rect x="538.5" y="204.8" width="3.6" height="3.6" fill="#000"/>
<rect x="546.8" y="210.3" width="3.6" height="3.6" fill="#000"/>
<rect x="555.1" y="214.3" width="3.6" height="3.6" fill="#000"/>
<rect x="563.5" y="217.8" width="3.6" height="3.6" fill="#000"/>
<rect x="571.8" y="219.8" width="3.6" height="3.6" fill="#000"/>
<rect x="580.1" y="221.5" width="3.6" height="3.6" fill="#000"/>
<rect x="588.4" y="222.9" width="3.6" height="3.6" fill="#000"/>
<rect x="596.7" y="223.5" width="3.6" height="3.6" fill="#000"/>
<rect x="605.0" y="224.1" width="3.6" height="3.6" fill="#000"/>
<rect x="613.4" y="224.7" width="3.6" height="3.6" fill="#000"/>
<rect x="621.7" y="225.0" width="3.6" height="3.6" fill="#000"/>
<rect x="630.0" y="225.3" width="3.6" height="3.6" fill="#000"/>
<rect x="638.3" y="225.6" width="3.6" height="3.6" fill="#000"/>
<rect x="646.6" y="225.7" width="3.6" height="3.6" fill="#000"/>
<rect x="654.9" y="225.9" width="3.6" height="3.6" fill="#000"/>
<rect x="663.2" y="226.0" width="3.6" height="3.6" fill="#000"/>
<rect x="671.6" y="226.0" width="3.6" height="3.6" fill="#000"/>
<rect x="679.9" y="226.0" width="3.6" height="3.6" fill="#000"/>
<rect x="688.2" y="226.1" width="3.6" height="3.6" fill="#000"/>
<rect x="696.5" y="226.1" width="3.6" height="3.6" fill="#000"/>
<rect x="704.8" y="226.1" width="3.6" height="3.6" fill="#000"/>
<rect x="713.2" y="226.1" width="3.6" height="3.6" fill="#000"/>
<rect x="721.5" y="226.2" width="3.6" height="3.6" fill="#000"/>
<rect x="729.8" y="226.2" width="3.6" height="3.6" fill="#000"/>
<rect x="738.1" y="226.2" width="3.6" height="3.6" fill="#000"/>
<rect x="538.6" y="223.5" width="3.4" height="3.4" fill="#000"/>
<rect x="546.9" y="217.1" width="3.4" height="3.4" fill="#000"/>
<rect x="555.2" y="206.6" width="3.4" height="3.4" fill="#000"/>
<rect x="563.5" y="194.6" width="3.4" height="3.4" fill="#000"/>
<rect x="571.9" y="183.3" width="3.4" height="3.4" fill="#000"/>
<rect x="580.2" y="176.2" width="3.4" height="3.4" fill="#000"/>
<rect x="588.5" y="171.6" width="3.4" height="3.4" fill="#000"/>
<rect x="596.8" y="171.9" width="3.4" height="3.4" fill="#000"/>
<rect x="605.1" y="178.8" width="3.4" height="3.4" fill="#000"/>
<rect x="613.4" y="186.7" width="3.4" height="3.4" fill="#000"/>
<rect x="621.8" y="193.6" width="3.4" height="3.4" fill="#000"/>
<rect x="630.1" y="200.6" width="3.4" height="3.4" fill="#000"/>
<rect x="638.4" y="206.6" width="3.4" height="3.4" fill="#000"/>
<rect x="646.7" y="211.4" width="3.4" height="3.4" fill="#000"/>
<rect x="655.0" y="215.5" width="3.4" height="3.4" fill="#000"/>
<rect x="663.3" y="218.5" width="3.4" height="3.4" fill="#000"/>
<rect x="671.7" y="220.7" width="3.4" height="3.4" fill="#000"/>
<rect x="680.0" y="222.1" width="3.4" height="3.4" fill="#000"/>
<rect x="688.3" y="223.2" width="3.4" height="3.4" fill="#000"/>
<rect x="696.6" y="224.1" width="3.4" height="3.4" fill="#000"/>
<rect x="704.9" y="224.8" width="3.4" height="3.4" fill="#000"/>
<rect x="713.2" y="225.3" width="3.4" height="3.4" fill="#000"/>
<rect x="721.6" y="225.7" width="3.4" height="3.4" fill="#000"/>
<rect x="463.8" y="208.7" width="3.4" height="3.4" fill="#000"/>
<rect x="472.1" y="181.1" width="3.4" height="3.4" fill="#000"/>
<rect x="480.4" y="145.8" width="3.4" height="3.4" fill="#000"/>
<rect x="488.7" y="117.0" width="3.4" height="3.4" fill="#000"/>
<rect x="497.0" y="99.0" width="3.4" height="3.4" fill="#000"/>
<rect x="505.3" y="78.8" width="3.4" height="3.4" fill="#000"/>
<rect x="513.6" y="69.0" width="3.4" height="3.4" fill="#000"/>
<rect x="522.0" y="65.4" width="3.4" height="3.4" fill="#000"/>
<rect x="530.3" y="70.8" width="3.4" height="3.4" fill="#000"/>
<rect x="538.6" y="78.7" width="3.4" height="3.4" fill="#000"/>
<rect x="546.9" y="91.5" width="3.4" height="3.4" fill="#000"/>
<rect x="555.2" y="105.8" width="3.4" height="3.4" fill="#000"/>
<rect x="563.5" y="119.8" width="3.4" height="3.4" fill="#000"/>
<rect x="571.9" y="132.9" width="3.4" height="3.4" fill="#000"/>
<rect x="580.2" y="145.5" width="3.4" height="3.4" fill="#000"/>
<rect x="588.5" y="158.5" width="3.4" height="3.4" fill="#000"/>
<rect x="596.8" y="171.4" width="3.4" height="3.4" fill="#000"/>
<rect x="605.1" y="178.6" width="3.4" height="3.4" fill="#000"/>
<rect x="613.4" y="185.8" width="3.4" height="3.4" fill="#000"/>
<rect x="621.8" y="193.6" width="3.4" height="3.4" fill="#000"/>
<rect x="630.1" y="201.5" width="3.4" height="3.4" fill="#000"/>
<rect x="638.4" y="206.7" width="3.4" height="3.4" fill="#000"/>
<rect x="646.7" y="210.9" width="3.4" height="3.4" fill="#000"/>
<rect x="655.0" y="214.5" width="3.4" height="3.4" fill="#000"/>
<rect x="663.3" y="218.0" width="3.4" height="3.4" fill="#000"/>
<rect x="671.7" y="221.3" width="3.4" height="3.4" fill="#000"/>
<rect x="680.0" y="222.7" width="3.4" height="3.4" fill="#000"/>
<rect x="688.3" y="224.2" width="3.4" height="3.4" fill="#000"/>
<rect x="696.6" y="224.7" width="3.4" height="3.4" fill="#000"/>
<rect x="704.9" y="225.2" width="3.4" height="3.4" fill="#000"/>
<rect x="713.2" y="225.7" width="3.4" height="3.4" fill="#000"/>
<rect x="488.1" y="217.6" width="4.6" height="4.6" fill="#000"/>
<rect x="496.4" y="191.3" width="4.6" height="4.6" fill="#000"/>
<rect x="504.7" y="152.6" width="4.6" height="4.6" fill="#000"/>
<rect x="513.1" y="120.6" width="4.6" height="4.6" fill="#000"/>
<rect x="521.4" y="90.6" width="4.6" height="4.6" fill="#000"/>
<rect x="529.7" y="71.4" width="4.6" height="4.6" fill="#000"/>
<rect x="538.0" y="61.8" width="4.6" height="4.6" fill="#000"/>
<rect x="546.3" y="56.8" width="4.6" height="4.6" fill="#000"/>
<rect x="554.6" y="63.2" width="4.6" height="4.6" fill="#000"/>
<rect x="563.0" y="81.9" width="4.6" height="4.6" fill="#000"/>
<rect x="571.3" y="110.5" width="4.6" height="4.6" fill="#000"/>
<rect x="579.6" y="134.8" width="4.6" height="4.6" fill="#000"/>
<rect x="587.9" y="157.9" width="4.6" height="4.6" fill="#000"/>
<rect x="596.2" y="175.0" width="4.6" height="4.6" fill="#000"/>
<rect x="604.5" y="188.6" width="4.6" height="4.6" fill="#000"/>
<rect x="612.9" y="198.9" width="4.6" height="4.6" fill="#000"/>
<rect x="621.2" y="206.4" width="4.6" height="4.6" fill="#000"/>
<rect x="629.5" y="211.4" width="4.6" height="4.6" fill="#000"/>
<rect x="637.8" y="216.2" width="4.6" height="4.6" fill="#000"/>
<rect x="646.1" y="218.9" width="4.6" height="4.6" fill="#000"/>
<rect x="654.4" y="220.9" width="4.6" height="4.6" fill="#000"/>
<rect x="662.8" y="222.7" width="4.6" height="4.6" fill="#000"/>
<rect x="671.1" y="223.6" width="4.6" height="4.6" fill="#000"/>
<rect x="679.4" y="224.2" width="4.6" height="4.6" fill="#000"/>
<rect x="687.7" y="224.9" width="4.6" height="4.6" fill="#000"/>
<rect x="696.0" y="225.1" width="4.6" height="4.6" fill="#000"/>
<rect x="704.3" y="225.3" width="4.6" height="4.6" fill="#000"/>
<rect x="712.7" y="225.5" width="4.6" height="4.6" fill="#000"/>
<rect x="447.0" y="166.5" width="3.6" height="3.6" fill="#000"/>
<rect x="455.3" y="134.7" width="3.6" height="3.6" fill="#000"/>
<rect x="463.6" y="115.8" width="3.6" height="3.6" fill="#000"/>
<rect x="472.0" y="120.2" width="3.6" height="3.6" fill="#000"/>
<rect x="480.3" y="139.1" width="3.6" height="3.6" fill="#000"/>
<rect x="488.6" y="156.9" width="3.6" height="3.6" fill="#000"/>
<rect x="496.9" y="177.3" width="3.6" height="3.6" fill="#000"/>
<rect x="505.2" y="191.7" width="3.6" height="3.6" fill="#000"/>
<rect x="513.6" y="199.9" width="3.6" height="3.6" fill="#000"/>
<rect x="521.9" y="207.0" width="3.6" height="3.6" fill="#000"/>
<rect x="530.2" y="212.2" width="3.6" height="3.6" fill="#000"/>
<rect x="538.5" y="215.7" width="3.6" height="3.6" fill="#000"/>
<rect x="546.8" y="219.2" width="3.6" height="3.6" fill="#000"/>
<rect x="555.1" y="220.9" width="3.6" height="3.6" fill="#000"/>
<rect x="563.5" y="222.5" width="3.6" height="3.6" fill="#000"/>
<rect x="571.8" y="223.2" width="3.6" height="3.6" fill="#000"/>
<rect x="580.1" y="223.8" width="3.6" height="3.6" fill="#000"/>
<rect x="588.4" y="224.5" width="3.6" height="3.6" fill="#000"/>
<rect x="596.7" y="224.9" width="3.6" height="3.6" fill="#000"/>
<rect x="605.0" y="225.2" width="3.6" height="3.6" fill="#000"/>
<rect x="613.4" y="225.6" width="3.6" height="3.6" fill="#000"/>
<rect x="621.7" y="225.7" width="3.6" height="3.6" fill="#000"/>
<rect x="630.0" y="225.9" width="3.6" height="3.6" fill="#000"/>
<rect x="638.3" y="226.0" width="3.6" height="3.6" fill="#000"/>
<path d="M440.5,20.5 L441.0,23.3 L441.6,27.2 L442.4,31.7 L443.3,36.9 L444.1,42.3 L445.0,47.9 L445.9,54.0 L446.8,60.8 L447.8,67.9 L448.7,75.0 L449.7,81.6 L450.5,87.3 L451.2,92.0 L451.8,96.0 L452.4,99.6 L452.9,102.9 L453.5,106.2 L454.2,109.7 L455.0,113.6 L455.8,117.8 L456.7,121.9 L457.6,125.8 L458.4,129.5 L459.2,132.6 L459.9,134.9 L460.5,136.5 L461.1,137.7 L461.7,139.0 L462.4,140.6 L463.2,142.9 L464.2,146.1 L465.3,149.9 L466.6,154.0 L467.8,158.2 L469.0,162.2 L470.2,165.8 L471.2,168.8 L472.3,171.7 L473.2,174.4 L474.2,176.9 L475.2,179.2 L476.2,181.3 L477.2,183.3 L478.1,185.0 L479.1,186.6 L480.1,188.0 L481.1,189.3 L482.2,190.7 L483.2,191.8 L484.2,192.7 L485.3,193.5 L486.4,194.3 L487.7,195.4 L489.2,196.9 L490.9,198.9 L492.8,201.3 L494.9,204.0 L497.0,206.7 L499.0,209.1 L500.9,211.0 L502.6,212.3 L504.1,213.3 L505.6,213.9 L507.1,214.5 L508.6,215.0 L510.4,215.6 L512.2,216.2 L514.2,216.7 L516.3,217.2 L518.4,217.8 L520.6,218.3 L522.8,218.9 L525.2,219.5 L527.6,220.2 L530.2,220.9 L532.7,221.6 L535.3,222.3 L537.8,222.8 L540.2,223.3 L542.4,223.7 L544.7,224.0 L547.0,224.3 L549.7,224.6 L552.8,224.9 L556.4,225.2 L560.4,225.6 L564.6,225.9 L569.0,226.2 L573.5,226.5 L577.7,226.8 L582.2,227.0 L587.0,227.1 L591.8,227.3 L596.2,227.4 L600.0,227.5 L602.7,227.6" fill="none" stroke="#e82020" stroke-width="2.30" stroke-linejoin="round" stroke-linecap="butt" stroke-dasharray="5.5,4"/>
<path d="M440.5,20.5 L440.5,228.0 L752.4,228.0" fill="none" stroke="#000" stroke-width="2.2"/>
<line x1="433.5" y1="228.0" x2="441.5" y2="228.0" stroke="#000" stroke-width="2.2"/>
<text x="431.2" y="235.0" font-size="15" font-weight="bold" text-anchor="end" font-family="Liberation Sans, sans-serif">0.0</text>
<line x1="433.5" y1="186.5" x2="441.5" y2="186.5" stroke="#000" stroke-width="2.2"/>
<text x="431.2" y="193.5" font-size="15" font-weight="bold" text-anchor="end" font-family="Liberation Sans, sans-serif">0.2</text>
<line x1="433.5" y1="145.0" x2="441.5" y2="145.0" stroke="#000" stroke-width="2.2"/>
<text x="431.2" y="152.0" font-size="15" font-weight="bold" text-anchor="end" font-family="Liberation Sans, sans-serif">0.4</text>
<line x1="433.5" y1="103.5" x2="441.5" y2="103.5" stroke="#000" stroke-width="2.2"/>
<text x="431.2" y="110.5" font-size="15" font-weight="bold" text-anchor="end" font-family="Liberation Sans, sans-serif">0.6</text>
<line x1="433.5" y1="62.0" x2="441.5" y2="62.0" stroke="#000" stroke-width="2.2"/>
<text x="431.2" y="69.0" font-size="15" font-weight="bold" text-anchor="end" font-family="Liberation Sans, sans-serif">0.8</text>
<line x1="433.5" y1="20.5" x2="441.5" y2="20.5" stroke="#000" stroke-width="2.2"/>
<text x="431.2" y="27.5" font-size="15" font-weight="bold" text-anchor="end" font-family="Liberation Sans, sans-serif">1.0</text>
<line x1="440.5" y1="227.0" x2="440.5" y2="235.0" stroke="#000" stroke-width="2.2"/>
<text x="440.5" y="252.8" font-size="15" font-weight="bold" text-anchor="middle" font-family="Liberation Sans, sans-serif">0.0</text>
<line x1="502.9" y1="227.0" x2="502.9" y2="235.0" stroke="#000" stroke-width="2.2"/>
<text x="502.9" y="252.8" font-size="15" font-weight="bold" text-anchor="middle" font-family="Liberation Sans, sans-serif">2.5</text>
<line x1="565.2" y1="227.0" x2="565.2" y2="235.0" stroke="#000" stroke-width="2.2"/>
<text x="565.2" y="252.8" font-size="15" font-weight="bold" text-anchor="middle" font-family="Liberation Sans, sans-serif">5.0</text>
<line x1="627.6" y1="227.0" x2="627.6" y2="235.0" stroke="#000" stroke-width="2.2"/>
<text x="627.6" y="252.8" font-size="15" font-weight="bold" text-anchor="middle" font-family="Liberation Sans, sans-serif">7.5</text>
<line x1="690.0" y1="227.0" x2="690.0" y2="235.0" stroke="#000" stroke-width="2.2"/>
<text x="690.0" y="252.8" font-size="15" font-weight="bold" text-anchor="middle" font-family="Liberation Sans, sans-serif">10.0</text>
<line x1="752.4" y1="227.0" x2="752.4" y2="235.0" stroke="#000" stroke-width="2.2"/>
<text x="752.4" y="252.8" font-size="15" font-weight="bold" text-anchor="middle" font-family="Liberation Sans, sans-serif">12.5</text>
<text x="598.5" y="265.8" font-size="16.8" font-weight="bold" text-anchor="middle" font-family="Liberation Sans, sans-serif">time</text>
<text transform="translate(406.3,125.9) rotate(-90)" font-size="14.5" font-weight="bold" text-anchor="middle" font-family="Liberation Sans, sans-serif">activation</text>
<line x1="637.0" y1="7.4" x2="669.3" y2="7.4" stroke="#e0307f" stroke-width="2.2"/>
<rect x="651.6" y="5.9" width="3.0" height="3.0" fill="#000"/>
<text x="683.3" y="12.4" font-size="14.8" letter-spacing="0.40" font-family="Liberation Sans, sans-serif">AvrPtoB</text>
<line x1="637.0" y1="22.3" x2="669.3" y2="22.3" stroke="#d040d0" stroke-width="2.2"/>
<rect x="651.6" y="20.8" width="3.0" height="3.0" fill="#000"/>
<text x="683.3" y="27.3" font-size="14.8" letter-spacing="0.40" font-family="Liberation Sans, sans-serif">ABA</text>
<line x1="637.0" y1="37.2" x2="669.3" y2="37.2" stroke="#208060" stroke-width="2.2"/>
<rect x="651.6" y="35.7" width="3.0" height="3.0" fill="#000"/>
<text x="683.3" y="42.2" font-size="14.8" letter-spacing="0.40" font-family="Liberation Sans, sans-serif">ARF1</text>
<line x1="637.0" y1="52.5" x2="669.3" y2="52.5" stroke="#f0b080" stroke-width="2.2"/>
<rect x="651.6" y="51.0" width="3.0" height="3.0" fill="#000"/>
<text x="683.3" y="57.5" font-size="14.8" letter-spacing="0.40" font-family="Liberation Sans, sans-serif">Alle. Oxi.Syn</text>
<line x1="637.0" y1="67.3" x2="669.3" y2="67.3" stroke="#f07020" stroke-width="2.2"/>
<rect x="651.6" y="65.8" width="3.0" height="3.0" fill="#000"/>
<text x="683.3" y="72.3" font-size="14.8" letter-spacing="0.40" font-family="Liberation Sans, sans-serif">Aux/IAA</text>
<line x1="637.0" y1="81.2" x2="669.3" y2="81.2" stroke="#1818e8" stroke-width="2.2"/>
<rect x="651.6" y="79.7" width="3.0" height="3.0" fill="#000"/>
<text x="683.3" y="86.2" font-size="14.8" letter-spacing="0.40" font-family="Liberation Sans, sans-serif">Auxins</text>
<line x1="637.0" y1="96.8" x2="669.3" y2="96.8" stroke="#9020d0" stroke-width="2.2"/>
<rect x="651.6" y="95.3" width="3.0" height="3.0" fill="#000"/>
<text x="683.3" y="101.8" font-size="14.8" letter-spacing="0.40" font-family="Liberation Sans, sans-serif">AvrRpt2</text>
<line x1="637.0" y1="109.9" x2="669.3" y2="109.9" stroke="#f09080" stroke-width="2.2"/>
<rect x="651.6" y="108.4" width="3.0" height="3.0" fill="#000"/>
<text x="683.3" y="114.9" font-size="14.8" letter-spacing="0.40" font-family="Liberation Sans, sans-serif">EIN2</text>
<line x1="637.0" y1="125.4" x2="669.3" y2="125.4" stroke="#20f020" stroke-width="2.2"/>
<rect x="651.6" y="123.9" width="3.0" height="3.0" fill="#000"/>
<text x="683.3" y="130.4" font-size="14.8" letter-spacing="0.40" font-family="Liberation Sans, sans-serif">ETR</text>
<line x1="637.0" y1="140.1" x2="669.3" y2="140.1" stroke="#a06020" stroke-width="2.2"/>
<rect x="651.6" y="138.6" width="3.0" height="3.0" fill="#000"/>
<text x="683.3" y="145.1" font-size="14.8" letter-spacing="0.40" font-family="Liberation Sans, sans-serif">Ethylene</text>
<line x1="637.0" y1="155.1" x2="669.3" y2="155.1" stroke="#e02080" stroke-width="2.2"/>
<rect x="651.6" y="153.6" width="3.0" height="3.0" fill="#000"/>
<text x="683.3" y="160.1" font-size="14.8" letter-spacing="0.40" font-family="Liberation Sans, sans-serif">Flag</text>
<line x1="637.0" y1="172.6" x2="669.3" y2="172.6" stroke="#b0b0f0" stroke-width="2.2"/>
<rect x="651.6" y="171.1" width="3.0" height="3.0" fill="#000"/>
<text x="680.7" y="177.0" font-size="12.3" font-family="Liberation Sans, sans-serif">PAD and EDS1</text>
<line x1="637.0" y1="187.5" x2="669.3" y2="187.5" stroke="#707070" stroke-width="2.2"/>
<rect x="651.1" y="185.5" width="4.0" height="4.0" fill="#000"/>
<text x="680.4" y="192.0" font-size="12.4" font-family="Liberation Sans, sans-serif">WRKY25 and 33</text>
<line x1="637.0" y1="201.4" x2="669.3" y2="201.4" stroke="#e82020" stroke-width="2.6" stroke-dasharray="7,4.5"/>
<text x="684.0" y="206.4" font-size="14.7" letter-spacing="0.20" font-family="Liberation Sans, sans-serif">Pst DC3000</text>
<path d="M75.9,496.0 L78.6,495.9 L82.4,495.8 L86.8,495.6 L91.6,495.4 L96.4,495.3 L100.9,495.2 L105.1,495.1 L109.2,495.0 L113.4,494.9 L117.6,494.8 L121.7,494.8 L125.9,494.8 L130.1,494.8 L134.2,494.8 L138.4,494.9 L142.6,495.0 L146.7,495.1 L150.9,495.2 L155.4,495.3 L160.2,495.4 L165.0,495.6 L169.4,495.8 L173.2,495.9 L175.9,496.0" fill="none" stroke="#f0a0a0" stroke-width="2.50" stroke-linejoin="round" stroke-linecap="round" stroke-dasharray="0.6,4.9"/>
<path d="M75.9,496.0 L77.1,495.9 L78.7,495.7 L80.6,495.5 L82.8,495.3 L85.4,495.1 L88.4,495.0 L91.8,494.8 L95.8,494.5 L100.1,494.3 L104.6,494.1 L109.1,494.0 L113.4,493.9 L117.6,493.9 L121.7,494.0 L125.9,494.2 L130.1,494.4 L134.2,494.6 L138.4,494.8 L142.9,495.0 L147.7,495.2 L152.5,495.4 L156.9,495.7 L160.7,495.9 L163.4,496.0" fill="none" stroke="#801040" stroke-width="2.50" stroke-linejoin="round" stroke-linecap="round" stroke-dasharray="0.6,4.9"/>
<path d="M150.9,496.0 L152.3,495.4 L154.2,494.5 L156.5,493.5 L159.0,492.4 L161.3,491.1 L163.4,489.8 L165.2,488.2 L167.0,486.5 L168.7,484.7 L170.3,482.8 L171.9,481.0 L173.4,479.4 L174.8,477.9 L176.0,476.5 L177.2,475.3 L178.3,474.0 L179.5,472.6 L180.9,471.0 L182.4,469.3 L184.0,467.3 L185.7,465.3 L187.5,463.2 L189.2,461.3 L190.9,459.6 L192.6,458.1 L194.3,456.7 L196.1,455.4 L197.8,454.2 L199.4,453.2 L200.9,452.3 L202.3,451.6 L203.6,451.0 L204.8,450.6 L206.0,450.4 L207.2,450.2 L208.4,450.2 L209.7,450.4 L210.9,450.8 L212.2,451.3 L213.4,451.9 L214.7,452.6 L215.9,453.4 L217.0,454.2 L218.0,455.0 L219.0,456.0 L220.1,457.0 L221.5,458.2 L223.4,459.6 L225.8,461.2 L228.6,463.1 L231.8,465.1 L235.0,467.2 L238.3,469.2 L241.4,471.0 L244.4,472.7 L247.3,474.4 L250.2,476.0 L253.1,477.5 L256.1,479.0 L259.1,480.4 L262.3,481.8 L265.6,483.1 L268.9,484.4 L272.2,485.6 L275.4,486.7 L278.4,487.7 L281.1,488.4 L283.5,489.0 L285.9,489.5 L288.2,489.9 L290.7,490.3 L293.4,490.8 L296.4,491.3 L299.5,491.9 L302.8,492.5 L306.2,493.0 L309.7,493.5 L313.4,493.9 L317.6,494.3 L322.3,494.6 L327.1,494.8 L331.7,495.1 L335.6,495.2 L338.4,495.4" fill="none" stroke="#a0a0a0" stroke-width="2.50" stroke-linejoin="round" stroke-linecap="round" stroke-dasharray="0.6,4.9"/>
<path d="M80.9,496.0 L81.7,495.1 L82.8,493.8 L84.2,492.3 L85.6,490.7 L87.1,489.1 L88.4,487.7 L89.7,486.4 L91.0,485.1 L92.2,483.8 L93.5,482.6 L94.7,481.5 L95.9,480.4 L97.0,479.4 L97.9,478.4 L98.8,477.5 L99.7,476.6 L100.7,475.9 L101.9,475.2 L103.2,474.7 L104.7,474.2 L106.2,473.9 L107.8,473.6 L109.4,473.3 L110.9,473.1 L112.3,472.9 L113.7,472.6 L115.0,472.4 L116.4,472.2 L117.9,472.3 L119.7,472.5 L121.7,473.0 L124.0,473.8 L126.4,474.7 L128.9,475.6 L131.3,476.5 L133.4,477.3 L135.3,477.9 L136.9,478.4 L138.5,478.9 L140.0,479.4 L141.6,479.9 L143.4,480.4 L145.2,480.9 L147.0,481.3 L148.9,481.8 L150.9,482.2 L153.2,482.8 L155.9,483.5 L159.1,484.4 L162.7,485.5 L166.5,486.6 L170.5,487.7 L174.5,488.8 L178.4,489.8 L182.1,490.6 L185.8,491.3 L189.5,491.9 L193.2,492.5 L197.0,493.0 L200.9,493.5 L204.9,493.9 L209.0,494.2 L213.2,494.5 L217.5,494.8 L221.7,495.0 L225.9,495.2 L230.4,495.4 L235.2,495.5 L240.0,495.7 L244.4,495.8 L248.2,495.9 L250.9,496.0" fill="none" stroke="#40f040" stroke-width="2.50" stroke-linejoin="round" stroke-linecap="round" stroke-dasharray="0.6,4.9"/>
<path d="M78.4,496.0 L79.2,495.2 L80.3,494.2 L81.5,492.9 L82.9,491.4 L84.4,489.6 L85.9,487.7 L87.5,485.3 L89.1,482.3 L90.9,479.2 L92.7,476.0 L94.3,473.2 L95.9,471.0 L97.3,469.5 L98.6,468.3 L99.8,467.5 L101.0,466.8 L102.2,466.3 L103.4,465.8 L104.7,465.4 L105.9,465.1 L107.2,464.9 L108.4,464.8 L109.7,464.7 L110.9,464.8 L112.2,464.9 L113.4,465.2 L114.7,465.5 L115.9,465.9 L117.2,466.4 L118.4,466.9 L119.6,467.4 L120.9,468.1 L122.1,468.8 L123.3,469.5 L124.6,470.3 L125.9,471.0 L127.3,471.8 L128.7,472.7 L130.2,473.6 L131.7,474.5 L133.2,475.4 L134.7,476.2 L136.1,477.1 L137.5,478.0 L138.9,478.8 L140.4,479.7 L141.9,480.6 L143.4,481.4 L145.0,482.3 L146.6,483.3 L148.3,484.2 L150.0,485.1 L151.7,485.9 L153.4,486.6 L155.0,487.3 L156.6,487.8 L158.2,488.3 L159.9,488.8 L161.6,489.3 L163.4,489.8 L165.2,490.3 L166.9,490.8 L168.7,491.4 L170.7,491.9 L173.1,492.4 L175.9,492.9 L179.3,493.3 L183.3,493.7 L187.6,494.0 L192.1,494.4 L196.6,494.7 L200.9,495.0 L205.4,495.2 L210.2,495.4 L215.0,495.6 L219.4,495.8 L223.2,495.9 L225.9,496.0" fill="none" stroke="#a01030" stroke-width="2.50" stroke-linejoin="round" stroke-linecap="round" stroke-dasharray="0.6,4.9"/>
<path d="M80.9,496.0 L81.7,495.2 L82.7,494.2 L84.0,493.0 L85.4,491.5 L86.9,489.8 L88.4,487.7 L90.0,485.1 L91.8,481.9 L93.7,478.4 L95.5,475.0 L97.2,471.7 L98.7,469.0 L99.7,466.8 L100.6,464.9 L101.3,463.3 L101.9,461.8 L102.6,460.3 L103.4,458.6 L104.4,456.6 L105.4,454.4 L106.4,452.1 L107.5,450.0 L108.6,448.3 L109.7,447.1 L110.6,446.5 L111.5,446.4 L112.5,446.7 L113.4,447.1 L114.6,447.7 L115.9,448.2 L117.4,448.6 L119.0,449.2 L120.8,449.8 L122.8,450.5 L124.9,451.3 L127.2,452.3 L129.7,453.5 L132.6,454.9 L135.6,456.4 L138.7,457.9 L141.8,459.3 L144.7,460.6 L147.3,461.8 L149.9,462.9 L152.4,464.0 L154.9,465.0 L157.5,465.9 L160.2,466.9 L163.1,467.9 L166.2,468.9 L169.4,469.9 L172.4,470.8 L175.2,471.6 L177.7,472.1 L179.6,472.3 L181.2,472.2 L182.6,472.0 L183.7,471.7 L184.8,471.3 L185.9,471.0 L186.9,470.9 L187.6,470.8 L188.2,470.6 L188.9,470.4 L189.8,469.9 L190.9,469.0 L192.4,467.6 L194.2,465.7 L196.2,463.6 L198.2,461.4 L200.1,459.4 L201.9,457.5 L203.5,455.9 L205.0,454.3 L206.4,452.9 L207.8,451.5 L209.3,450.3 L210.9,449.2 L212.6,448.2 L214.4,447.3 L216.3,446.6 L218.1,446.0 L219.9,445.6 L221.7,445.5 L223.2,445.6 L224.6,446.0 L226.0,446.6 L227.4,447.3 L229.0,448.2 L230.9,449.2 L233.1,450.3 L235.5,451.4 L238.0,452.7 L240.7,454.2 L243.3,455.8 L245.9,457.5 L248.4,459.5 L251.0,461.8 L253.5,464.2 L256.1,466.6 L258.7,468.9 L261.4,471.0 L264.1,473.0 L266.9,474.9 L269.8,476.6 L272.6,478.3 L275.5,479.9 L278.4,481.4 L281.2,482.9 L283.9,484.2 L286.6,485.5 L289.5,486.6 L292.5,487.7 L295.9,488.7 L299.6,489.6 L303.7,490.4 L307.9,491.1 L312.3,491.8 L316.6,492.3 L320.9,492.9 L325.4,493.4 L330.2,493.8 L335.0,494.2 L339.4,494.5 L343.2,494.8 L345.9,495.0" fill="none" stroke="#2020f0" stroke-width="2.50" stroke-linejoin="round" stroke-linecap="round" stroke-dasharray="0.6,4.9"/>
<path d="M50.9,496.0 L51.0,495.5 L51.2,495.0 L51.4,494.3 L51.6,493.3 L51.9,491.8 L52.1,489.8 L52.4,487.0 L52.6,483.8 L52.9,480.0 L53.2,475.9 L53.5,471.5 L53.9,466.9 L54.3,461.9 L54.7,456.4 L55.2,450.6 L55.7,444.8 L56.3,439.0 L57.1,433.6 L58.2,428.3 L59.4,423.0 L60.7,417.9 L62.1,413.0 L63.4,408.4 L64.7,404.5 L65.8,401.1 L66.9,398.2 L67.9,395.6 L69.0,393.5 L70.0,391.6 L70.9,389.9 L71.8,388.6 L72.6,387.5 L73.3,386.8 L74.1,386.3 L74.8,386.0 L75.7,385.8 L76.5,385.7 L77.4,385.8 L78.2,386.2 L79.1,386.6 L80.0,387.2 L80.9,387.8 L81.8,388.6 L82.8,389.5 L83.7,390.6 L84.6,391.7 L85.5,392.9 L86.4,394.1 L87.2,395.3 L88.0,396.6 L88.7,398.0 L89.4,399.4 L90.2,400.9 L90.9,402.4 L91.6,403.9 L92.2,405.3 L92.9,406.8 L93.6,408.5 L94.4,410.4 L95.4,412.8 L96.6,415.7 L97.9,418.9 L99.4,422.5 L100.9,426.2 L102.5,430.0 L104.2,433.6 L105.8,437.2 L107.6,441.0 L109.4,444.7 L111.2,448.4 L113.2,452.0 L115.2,455.4 L117.2,458.7 L119.3,461.9 L121.5,465.0 L123.8,467.9 L126.1,470.6 L128.4,473.1 L130.8,475.3 L133.3,477.3 L135.8,479.0 L138.3,480.6 L140.9,482.1 L143.4,483.5 L145.9,484.8 L148.3,486.0 L150.7,487.1 L153.2,488.1 L155.8,488.9 L158.4,489.8 L161.1,490.5 L163.8,491.1 L166.5,491.6 L169.4,492.0 L172.5,492.5 L175.9,492.9 L179.6,493.3 L183.7,493.7 L187.9,494.1 L192.3,494.4 L196.6,494.7 L200.9,495.0 L205.4,495.2 L210.2,495.4 L215.0,495.5 L219.4,495.6 L223.2,495.7 L225.9,495.8" fill="none" stroke="#f0b080" stroke-width="2.50" stroke-linejoin="round" stroke-linecap="round" stroke-dasharray="0.6,4.9"/>
<path d="M70.9,496.0 L71.4,495.2 L72.1,494.3 L73.0,493.1 L73.9,491.6 L74.9,489.8 L75.9,487.7 L76.9,485.1 L78.0,482.1 L79.2,478.8 L80.4,475.2 L81.6,471.6 L82.9,467.9 L84.3,464.2 L85.7,460.3 L87.1,456.3 L88.6,452.2 L90.1,448.1 L91.7,444.0 L93.1,439.9 L94.7,435.7 L96.2,431.5 L97.7,427.2 L99.3,423.1 L100.9,419.0 L102.6,414.9 L104.5,410.7 L106.4,406.6 L108.2,402.6 L109.9,399.1 L111.4,396.2 L112.7,393.8 L113.7,391.8 L114.7,390.3 L115.6,389.1 L116.5,388.3 L117.4,387.8 L118.4,387.7 L119.4,388.0 L120.5,388.7 L121.5,389.6 L122.5,390.8 L123.4,392.0 L124.3,393.5 L125.1,395.3 L125.9,397.3 L126.7,399.3 L127.5,401.4 L128.4,403.2 L129.4,404.9 L130.4,406.4 L131.4,407.9 L132.5,409.5 L133.6,411.1 L134.7,412.8 L135.7,414.6 L136.7,416.4 L137.7,418.3 L138.8,420.4 L140.1,422.7 L141.7,425.3 L143.5,428.3 L145.6,431.6 L147.9,435.2 L150.3,438.8 L152.6,442.5 L154.9,446.1 L157.1,449.6 L159.3,453.3 L161.6,457.0 L163.8,460.6 L166.0,463.9 L168.2,466.9 L170.2,469.5 L172.3,471.8 L174.3,473.9 L176.3,475.8 L178.5,477.6 L180.9,479.4 L183.6,481.0 L186.5,482.6 L189.5,484.0 L192.6,485.4 L195.6,486.6 L198.4,487.7 L200.9,488.6 L203.2,489.4 L205.4,490.1 L207.8,490.7 L210.4,491.3 L213.4,491.8 L217.0,492.4 L221.0,492.9 L225.3,493.4 L229.7,493.8 L234.1,494.2 L238.4,494.5 L242.9,494.8 L247.7,495.1 L252.5,495.2 L256.9,495.4 L260.7,495.5 L263.4,495.6" fill="none" stroke="#f07020" stroke-width="2.50" stroke-linejoin="round" stroke-linecap="round" stroke-dasharray="0.6,4.9"/>
<path d="M78.4,496.0 L78.9,495.4 L79.7,494.5 L80.6,493.5 L81.5,492.4 L82.5,491.1 L83.4,489.8 L84.2,488.3 L85.1,486.8 L85.9,485.2 L86.7,483.4 L87.6,481.5 L88.4,479.4 L89.2,477.1 L89.9,474.7 L90.7,472.2 L91.5,469.4 L92.4,466.3 L93.4,462.7 L94.6,458.7 L96.0,454.1 L97.4,449.3 L98.9,444.2 L100.4,439.1 L101.9,434.0 L103.4,428.9 L104.9,423.7 L106.4,418.3 L107.9,413.1 L109.4,408.0 L110.9,403.2 L112.4,398.7 L113.8,394.4 L115.3,390.3 L116.7,386.3 L118.2,382.6 L119.7,379.1 L121.1,375.8 L122.6,372.6 L124.0,369.6 L125.5,366.9 L126.9,364.6 L128.4,362.7 L129.9,361.2 L131.5,360.2 L133.1,359.5 L134.6,359.1 L136.1,358.9 L137.4,358.7 L138.6,358.6 L139.7,358.7 L140.7,359.0 L141.6,359.4 L142.5,360.0 L143.4,360.8 L144.3,361.8 L145.1,363.0 L146.0,364.3 L146.8,365.8 L147.6,367.4 L148.4,369.1 L149.2,371.0 L150.1,373.0 L150.9,375.1 L151.8,377.3 L152.6,379.5 L153.4,381.6 L154.1,383.5 L154.6,385.2 L155.1,386.9 L155.8,388.8 L156.6,391.2 L157.6,394.1 L159.1,397.8 L160.8,402.1 L162.7,406.9 L164.7,411.8 L166.7,416.6 L168.7,421.1 L170.5,425.4 L172.3,429.6 L174.1,433.7 L176.0,437.6 L177.8,441.5 L179.7,445.0 L181.5,448.4 L183.3,451.5 L185.1,454.5 L187.0,457.4 L188.9,460.1 L190.9,462.7 L193.0,465.3 L195.2,467.8 L197.5,470.1 L199.8,472.3 L202.0,474.4 L204.2,476.2 L206.2,477.8 L208.1,479.2 L209.9,480.4 L211.8,481.5 L213.8,482.5 L215.9,483.5 L218.2,484.5 L220.5,485.4 L222.9,486.3 L225.4,487.1 L228.1,487.9 L230.9,488.7 L233.9,489.5 L237.0,490.3 L240.3,491.0 L243.7,491.7 L247.2,492.3 L250.9,492.9 L254.8,493.4 L258.9,493.8 L263.1,494.1 L267.4,494.4 L271.7,494.7 L275.9,495.0 L280.4,495.2 L285.2,495.4 L290.0,495.5 L294.4,495.6 L298.2,495.7 L300.9,495.8" fill="none" stroke="#208020" stroke-width="2.50" stroke-linejoin="round" stroke-linecap="round" stroke-dasharray="0.6,4.9"/>
<path d="M50.9,496.0 L51.3,495.6 L51.9,495.2 L52.5,494.7 L53.3,494.0 L54.0,493.1 L54.6,491.8 L55.3,490.4 L55.9,488.7 L56.4,486.8 L57.1,484.6 L57.7,482.1 L58.4,479.4 L59.2,476.1 L60.0,472.5 L60.8,468.6 L61.7,464.5 L62.6,460.4 L63.4,456.5 L64.2,452.6 L65.1,448.8 L65.9,444.9 L66.7,441.1 L67.6,437.3 L68.4,433.6 L69.2,430.0 L70.1,426.5 L70.9,423.1 L71.7,419.7 L72.6,416.2 L73.4,412.8 L74.2,409.3 L75.0,405.8 L75.8,402.3 L76.7,398.8 L77.5,395.4 L78.4,392.0 L79.3,388.6 L80.3,385.3 L81.2,382.0 L82.2,378.8 L83.3,375.6 L84.4,372.4 L85.6,369.2 L86.9,365.9 L88.3,362.5 L89.6,359.4 L90.9,356.7 L92.2,354.6 L93.3,353.0 L94.4,352.0 L95.4,351.3 L96.4,350.9 L97.4,350.6 L98.4,350.4 L99.4,350.2 L100.3,350.1 L101.3,350.2 L102.2,350.4 L103.0,350.8 L103.9,351.4 L104.7,352.3 L105.5,353.3 L106.2,354.6 L106.9,355.9 L107.7,357.3 L108.4,358.7 L109.1,360.0 L109.7,361.2 L110.4,362.5 L111.1,364.0 L111.9,365.8 L112.9,368.1 L114.2,371.1 L115.7,374.8 L117.4,378.8 L119.0,382.9 L120.6,386.7 L121.9,389.9 L123.0,392.5 L123.9,394.7 L124.7,396.6 L125.5,398.4 L126.3,400.3 L127.2,402.4 L128.0,404.7 L129.0,407.1 L129.9,409.5 L130.8,412.0 L131.7,414.5 L132.7,417.0 L133.6,419.4 L134.6,421.9 L135.6,424.4 L136.5,426.8 L137.5,429.2 L138.4,431.5 L139.2,433.7 L140.0,435.8 L140.8,437.8 L141.6,439.8 L142.4,441.8 L143.4,444.0 L144.5,446.4 L145.8,448.9 L147.1,451.5 L148.4,454.0 L149.7,456.4 L150.9,458.6 L151.9,460.4 L152.9,462.1 L153.8,463.6 L154.7,465.1 L155.7,466.5 L156.7,467.9 L157.7,469.4 L158.8,470.8 L159.9,472.2 L161.0,473.6 L162.2,474.9 L163.4,476.2 L164.6,477.5 L165.9,478.7 L167.1,479.9 L168.5,481.1 L170.1,482.3 L171.9,483.5 L174.1,484.8 L176.5,486.1 L179.2,487.4 L181.9,488.7 L184.6,489.9 L187.2,490.8 L189.4,491.5 L191.4,492.1 L193.4,492.5 L195.5,492.8 L198.0,493.2 L200.9,493.5 L204.4,493.9 L208.4,494.2 L212.7,494.5 L217.2,494.7 L221.6,495.0 L225.9,495.2 L230.4,495.3 L235.2,495.5 L240.0,495.6 L244.4,495.7 L248.2,495.7 L250.9,495.8" fill="none" stroke="#a020f0" stroke-width="2.50" stroke-linejoin="round" stroke-linecap="round" stroke-dasharray="0.6,4.9"/>
<path d="M62.6,496.0 L63.0,495.1 L63.4,494.0 L63.9,492.6 L64.5,490.8 L65.2,488.5 L65.9,485.6 L66.7,481.8 L67.6,477.0 L68.6,471.8 L69.6,466.4 L70.5,461.2 L71.4,456.5 L72.2,452.3 L73.0,448.3 L73.7,444.5 L74.5,440.8 L75.2,437.2 L75.9,433.6 L76.6,430.1 L77.2,426.7 L77.9,423.3 L78.5,420.0 L79.3,416.5 L80.2,412.8 L81.2,408.8 L82.3,404.6 L83.5,400.3 L84.8,395.9 L86.0,391.7 L87.2,387.8 L88.2,384.3 L89.1,381.0 L90.0,377.9 L91.0,374.8 L92.1,371.6 L93.4,368.1 L94.9,364.3 L96.6,360.3 L98.5,356.1 L100.4,352.0 L102.4,348.0 L104.4,344.2 L106.5,340.5 L108.8,336.8 L111.1,333.2 L113.3,329.9 L115.5,326.9 L117.4,324.4 L119.1,322.4 L120.7,320.9 L122.1,319.7 L123.4,318.7 L124.7,317.9 L125.9,317.1 L127.0,316.4 L128.0,315.9 L129.0,315.5 L129.9,315.2 L130.7,315.1 L131.7,315.0 L132.6,315.1 L133.5,315.3 L134.5,315.7 L135.4,316.1 L136.3,316.6 L137.2,317.1 L137.9,317.6 L138.7,318.1 L139.3,318.7 L140.0,319.4 L140.7,320.2 L141.4,321.3 L142.1,322.6 L142.9,324.1 L143.6,325.8 L144.4,327.7 L145.1,329.6 L145.9,331.7 L146.7,333.9 L147.4,336.2 L148.2,338.7 L148.9,341.2 L149.7,343.8 L150.4,346.2 L151.1,348.7 L151.8,351.1 L152.5,353.5 L153.2,355.9 L153.9,358.4 L154.7,360.8 L155.4,363.2 L156.1,365.6 L156.8,367.9 L157.6,370.4 L158.3,372.8 L159.2,375.4 L160.0,378.0 L160.9,380.8 L161.8,383.6 L162.8,386.5 L163.7,389.3 L164.7,392.0 L165.6,394.7 L166.5,397.3 L167.4,399.9 L168.3,402.4 L169.2,405.0 L170.1,407.6 L171.1,410.2 L172.1,412.8 L173.1,415.5 L174.0,418.1 L175.0,420.7 L175.9,423.2 L176.8,425.7 L177.6,428.1 L178.4,430.5 L179.2,432.9 L180.0,435.3 L180.9,437.8 L181.9,440.2 L182.9,442.7 L183.9,445.2 L185.0,447.6 L186.1,450.0 L187.2,452.3 L188.3,454.5 L189.4,456.7 L190.6,458.8 L191.8,460.9 L193.0,462.9 L194.2,464.8 L195.3,466.7 L196.4,468.6 L197.6,470.4 L198.7,472.1 L199.8,473.7 L200.9,475.2 L201.9,476.5 L202.8,477.5 L203.7,478.5 L204.7,479.4 L205.9,480.4 L207.4,481.4 L209.2,482.6 L211.2,483.9 L213.5,485.2 L215.8,486.5 L218.3,487.7 L220.9,488.7 L223.5,489.6 L226.2,490.4 L228.9,491.1 L231.9,491.8 L235.0,492.3 L238.4,492.9 L242.1,493.4 L246.2,493.8 L250.4,494.1 L254.8,494.4 L259.1,494.7 L263.4,495.0 L267.9,495.2 L272.7,495.4 L277.5,495.5 L281.9,495.6 L285.7,495.7 L288.4,495.8" fill="none" stroke="#e02090" stroke-width="2.50" stroke-linejoin="round" stroke-linecap="round" stroke-dasharray="0.6,4.9"/>
<path d="M50.9,496.0 L53.6,496.0 L57.4,496.0 L61.8,495.9 L66.6,495.9 L71.4,495.8 L75.9,495.8 L80.1,495.7 L84.2,495.7 L88.4,495.6 L92.6,495.5 L96.7,495.5 L100.9,495.4 L105.2,495.3 L109.7,495.2 L114.2,495.1 L118.5,495.0 L122.5,494.9 L125.9,494.8 L128.7,494.6 L131.0,494.5 L132.9,494.4 L134.7,494.3 L136.5,494.1 L138.4,493.9 L140.5,493.7 L142.6,493.4 L144.7,493.0 L146.7,492.7 L148.8,492.3 L150.9,491.8 L153.0,491.4 L155.0,491.0 L157.0,490.6 L159.1,490.1 L161.2,489.5 L163.4,488.7 L165.7,487.7 L168.2,486.5 L170.6,485.1 L173.1,483.8 L175.5,482.5 L177.7,481.4 L179.6,480.6 L181.5,479.8 L183.2,479.1 L184.9,478.5 L186.6,477.9 L188.4,477.3 L190.3,476.7 L192.3,476.0 L194.3,475.5 L196.3,474.9 L198.1,474.5 L199.7,474.2 L200.8,473.9 L201.7,473.8 L202.4,473.8 L203.1,473.8 L204.2,473.9 L205.9,474.2 L208.2,474.5 L210.9,474.9 L213.9,475.3 L217.2,475.9 L220.5,476.5 L223.9,477.3 L227.3,478.1 L230.9,479.1 L234.6,480.2 L238.4,481.3 L242.2,482.4 L245.9,483.5 L249.6,484.6 L253.4,485.7 L257.1,486.8 L260.9,487.9 L264.6,488.9 L268.4,489.8 L272.1,490.5 L275.9,491.1 L279.6,491.6 L283.4,492.0 L287.1,492.5 L290.9,492.9 L294.6,493.3 L298.3,493.6 L302.0,494.0 L305.7,494.3 L309.5,494.5 L313.4,494.8 L317.6,495.0 L322.0,495.1 L326.5,495.3 L330.9,495.4 L334.9,495.5 L338.4,495.6 L341.4,495.7 L344.0,495.8 L346.2,495.8 L348.1,495.9 L349.7,496.0 L350.9,496.0" fill="none" stroke="#a09020" stroke-width="2.10" stroke-linejoin="round" stroke-linecap="butt"/>
<path d="M50.9,298.4 L51.1,298.4 L51.3,298.2 L51.6,298.0 L51.9,298.2 L52.3,298.9 L52.6,300.5 L53.1,303.1 L53.6,306.6 L54.2,310.6 L54.7,315.0 L55.3,319.3 L55.9,323.4 L56.5,327.1 L57.0,330.9 L57.6,334.7 L58.2,338.5 L58.8,342.3 L59.4,346.2 L60.0,350.4 L60.7,354.6 L61.4,359.0 L62.1,363.3 L62.8,367.4 L63.4,371.2 L64.0,374.7 L64.6,378.0 L65.2,381.1 L65.7,384.1 L66.3,387.0 L66.9,389.9 L67.5,392.8 L68.2,395.6 L68.8,398.4 L69.5,401.1 L70.2,403.8 L70.9,406.6 L71.6,409.4 L72.4,412.2 L73.2,415.0 L74.0,417.8 L74.8,420.5 L75.7,423.2 L76.5,425.7 L77.3,428.1 L78.1,430.5 L78.9,432.8 L79.9,435.2 L80.9,437.8 L82.1,440.5 L83.4,443.4 L84.8,446.3 L86.2,449.2 L87.6,452.0 L88.9,454.4 L90.1,456.5 L91.3,458.5 L92.5,460.2 L93.7,461.9 L94.8,463.4 L95.9,464.8 L96.9,466.1 L97.9,467.1 L98.9,468.1 L99.8,469.0 L100.8,469.9 L101.9,471.0 L103.1,472.3 L104.4,473.8 L105.7,475.3 L107.0,476.7 L108.3,478.1 L109.7,479.4 L110.9,480.4 L112.2,481.4 L113.5,482.2 L114.8,483.1 L116.1,483.8 L117.4,484.6 L118.8,485.3 L120.1,486.0 L121.5,486.6 L122.9,487.2 L124.4,487.8 L125.9,488.3 L127.4,488.8 L128.9,489.2 L130.5,489.6 L132.1,490.0 L133.9,490.4 L135.9,490.8 L138.0,491.3 L140.2,491.7 L142.5,492.2 L145.0,492.7 L147.8,493.1 L150.9,493.5 L154.5,493.9 L158.5,494.2 L162.8,494.5 L167.2,494.7 L171.6,495.0 L175.9,495.2 L180.4,495.3 L185.2,495.5 L190.0,495.6 L194.4,495.7 L198.2,495.7 L200.9,495.8" fill="none" stroke="#e02020" stroke-width="2.60" stroke-linejoin="round" stroke-linecap="butt" stroke-dasharray="6,3.5"/>
<path d="M50.9,288.0 L50.9,496.0 L363.4,496.0" fill="none" stroke="#000" stroke-width="2.2"/>
<line x1="43.9" y1="496.0" x2="51.9" y2="496.0" stroke="#000" stroke-width="2.2"/>
<text x="41.5" y="503.0" font-size="15" font-weight="bold" text-anchor="end" font-family="Liberation Sans, sans-serif">0.0</text>
<line x1="43.9" y1="454.4" x2="51.9" y2="454.4" stroke="#000" stroke-width="2.2"/>
<text x="41.5" y="461.4" font-size="15" font-weight="bold" text-anchor="end" font-family="Liberation Sans, sans-serif">0.2</text>
<line x1="43.9" y1="412.8" x2="51.9" y2="412.8" stroke="#000" stroke-width="2.2"/>
<text x="41.5" y="419.8" font-size="15" font-weight="bold" text-anchor="end" font-family="Liberation Sans, sans-serif">0.4</text>
<line x1="43.9" y1="371.2" x2="51.9" y2="371.2" stroke="#000" stroke-width="2.2"/>
<text x="41.5" y="378.2" font-size="15" font-weight="bold" text-anchor="end" font-family="Liberation Sans, sans-serif">0.6</text>
<line x1="43.9" y1="329.6" x2="51.9" y2="329.6" stroke="#000" stroke-width="2.2"/>
<text x="41.5" y="336.6" font-size="15" font-weight="bold" text-anchor="end" font-family="Liberation Sans, sans-serif">0.8</text>
<line x1="43.9" y1="288.0" x2="51.9" y2="288.0" stroke="#000" stroke-width="2.2"/>
<text x="41.5" y="295.0" font-size="15" font-weight="bold" text-anchor="end" font-family="Liberation Sans, sans-serif">1.0</text>
<line x1="50.9" y1="495.0" x2="50.9" y2="503.0" stroke="#000" stroke-width="2.2"/>
<text x="50.9" y="520.0" font-size="15" font-weight="bold" text-anchor="middle" font-family="Liberation Sans, sans-serif">0.0</text>
<line x1="113.4" y1="495.0" x2="113.4" y2="503.0" stroke="#000" stroke-width="2.2"/>
<text x="113.4" y="520.0" font-size="15" font-weight="bold" text-anchor="middle" font-family="Liberation Sans, sans-serif">2.5</text>
<line x1="175.9" y1="495.0" x2="175.9" y2="503.0" stroke="#000" stroke-width="2.2"/>
<text x="175.9" y="520.0" font-size="15" font-weight="bold" text-anchor="middle" font-family="Liberation Sans, sans-serif">5.0</text>
<line x1="238.4" y1="495.0" x2="238.4" y2="503.0" stroke="#000" stroke-width="2.2"/>
<text x="238.4" y="520.0" font-size="15" font-weight="bold" text-anchor="middle" font-family="Liberation Sans, sans-serif">7.5</text>
<line x1="300.9" y1="495.0" x2="300.9" y2="503.0" stroke="#000" stroke-width="2.2"/>
<text x="300.9" y="520.0" font-size="15" font-weight="bold" text-anchor="middle" font-family="Liberation Sans, sans-serif">10.0</text>
<line x1="363.4" y1="495.0" x2="363.4" y2="503.0" stroke="#000" stroke-width="2.2"/>
<text x="363.4" y="520.0" font-size="15" font-weight="bold" text-anchor="middle" font-family="Liberation Sans, sans-serif">12.5</text>
<text x="209.3" y="533.4" font-size="16.8" font-weight="bold" text-anchor="middle" font-family="Liberation Sans, sans-serif">time</text>
<text transform="translate(15.8,394.9) rotate(-90)" font-size="14.5" font-weight="bold" text-anchor="middle" font-family="Liberation Sans, sans-serif">activation</text>
<line x1="265.4" y1="279.5" x2="298.5" y2="279.5" stroke="#f0c090" stroke-width="2.5" stroke-dasharray="0.6,6.5" stroke-linecap="round"/>
<text x="310.2" y="283.8" font-size="12.0" font-family="Liberation Sans, sans-serif">AvrRPS4</text>
<line x1="265.4" y1="297.2" x2="298.5" y2="297.2" stroke="#f07020" stroke-width="2.5" stroke-dasharray="0.6,6.5" stroke-linecap="round"/>
<text x="310.2" y="301.5" font-size="12.0" font-family="Liberation Sans, sans-serif">MAPK4</text>
<line x1="265.4" y1="314.2" x2="298.5" y2="314.2" stroke="#208020" stroke-width="2.5" stroke-dasharray="0.6,6.5" stroke-linecap="round"/>
<text x="310.2" y="318.5" font-size="12.0" font-family="Liberation Sans, sans-serif">MSK1</text>
<line x1="265.4" y1="330.8" x2="298.5" y2="330.8" stroke="#40f040" stroke-width="2.5" stroke-dasharray="0.6,6.5" stroke-linecap="round"/>
<text x="310.2" y="335.1" font-size="12.0" font-family="Liberation Sans, sans-serif">MYC2</text>
<line x1="265.4" y1="347.8" x2="298.5" y2="347.8" stroke="#f0a0a0" stroke-width="2.5" stroke-dasharray="0.6,6.5" stroke-linecap="round"/>
<text x="310.2" y="352.1" font-size="12.0" font-family="Liberation Sans, sans-serif">NADPH Oxi.</text>
<line x1="265.4" y1="364.5" x2="298.5" y2="364.5" stroke="#e02080" stroke-width="2.5" stroke-dasharray="0.6,6.5" stroke-linecap="round"/>
<text x="310.2" y="368.8" font-size="12.0" font-family="Liberation Sans, sans-serif">NDR1</text>
<line x1="264.2" y1="377.7" x2="298.5" y2="377.7" stroke="#a09020" stroke-width="3.0"/>
<text x="310.2" y="382.0" font-size="12.0" font-family="Liberation Sans, sans-serif">NPR1</text>
<line x1="265.4" y1="392.7" x2="298.5" y2="392.7" stroke="#2020f0" stroke-width="2.5" stroke-dasharray="0.6,6.5" stroke-linecap="round"/>
<text x="310.2" y="397.0" font-size="12.0" font-family="Liberation Sans, sans-serif">PRs</text>
<line x1="265.4" y1="407.1" x2="298.5" y2="407.1" stroke="#a020f0" stroke-width="2.5" stroke-dasharray="0.6,6.5" stroke-linecap="round"/>
<text x="310.2" y="411.4" font-size="12.0" font-family="Liberation Sans, sans-serif">TIR-NBS-LRR</text>
<line x1="265.4" y1="419.8" x2="298.5" y2="419.8" stroke="#a01030" stroke-width="2.5" stroke-dasharray="0.6,6.5" stroke-linecap="round"/>
<text x="310.2" y="424.1" font-size="12.0" font-family="Liberation Sans, sans-serif">TIR1</text>
<line x1="265.4" y1="433.1" x2="298.5" y2="433.1" stroke="#a0a0a0" stroke-width="2.5" stroke-dasharray="0.6,6.5" stroke-linecap="round"/>
<text x="310.2" y="437.4" font-size="12.0" font-family="Liberation Sans, sans-serif">WRKY62</text>
<line x1="265.4" y1="448.1" x2="298.5" y2="448.1" stroke="#801040" stroke-width="2.5" stroke-dasharray="0.6,6.5" stroke-linecap="round"/>
<text x="310.2" y="452.4" font-size="12.0" font-family="Liberation Sans, sans-serif">WRKY70</text>
<line x1="264.2" y1="463.2" x2="296" y2="463.2" stroke="#e02020" stroke-width="2.8" stroke-dasharray="8,4"/>
<text x="310.2" y="467.5" font-size="11.8" font-family="Liberation Sans, sans-serif">Pst DC3000</text>
<path d="M490.1,494.6 L491.5,494.2 L493.3,493.7 L495.6,493.1 L498.0,492.5 L500.4,491.9 L502.6,491.5 L504.5,491.1 L506.3,490.9 L508.1,490.7 L510.0,490.5 L512.3,490.5 L515.1,490.4 L518.5,490.5 L522.5,490.6 L526.8,490.8 L531.3,491.0 L535.8,491.3 L540.1,491.5 L544.3,491.6 L548.4,491.8 L552.6,492.0 L556.8,492.2 L560.9,492.3 L565.1,492.5 L569.3,492.7 L573.4,492.9 L577.6,493.0 L581.8,493.2 L585.9,493.4 L590.1,493.6 L594.6,493.7 L599.4,493.9 L604.2,494.1 L608.6,494.3 L612.4,494.5 L615.1,494.6" fill="none" stroke="#a01010" stroke-width="2.20" stroke-linejoin="round" stroke-linecap="butt" stroke-dasharray="5.5,3.2"/>
<path d="M485.1,494.6 L486.1,493.9 L487.6,493.0 L489.2,491.9 L491.1,490.7 L493.1,489.5 L495.1,488.3 L497.2,487.1 L499.4,485.7 L501.7,484.2 L504.1,482.9 L506.5,481.8 L508.9,481.0 L511.1,480.7 L513.2,480.7 L515.3,480.9 L517.6,481.3 L519.9,481.7 L522.6,482.1 L525.5,482.5 L528.7,483.0 L532.1,483.6 L535.5,484.2 L539.0,484.8 L542.6,485.2 L546.3,485.6 L550.1,485.9 L554.0,486.2 L557.9,486.5 L561.6,486.6 L565.1,486.7 L568.2,486.6 L571.0,486.5 L573.6,486.3 L576.3,486.0 L579.1,485.6 L582.1,485.2 L585.4,484.7 L589.0,484.0 L592.7,483.3 L596.4,482.6 L600.2,481.8 L603.9,481.0 L607.6,480.2 L611.3,479.2 L615.1,478.3 L618.8,477.4 L622.4,476.8 L625.9,476.4 L629.1,476.5 L632.1,476.8 L635.0,477.4 L637.9,478.1 L640.6,478.8 L643.4,479.6 L645.9,480.3 L648.4,481.2 L650.7,482.1 L653.1,483.1 L655.7,484.1 L658.6,485.0 L661.8,485.9 L665.3,486.9 L668.9,487.9 L672.6,488.8 L676.4,489.7 L680.1,490.4 L683.8,491.1 L687.4,491.6 L691.1,492.1 L694.9,492.5 L698.7,492.8 L702.6,493.1 L706.9,493.4 L711.7,493.6 L716.5,493.8 L721.0,494.0 L724.9,494.1 L727.6,494.2" fill="none" stroke="#30c030" stroke-width="2.20" stroke-linejoin="round" stroke-linecap="butt" stroke-dasharray="5.5,3.2"/>
<path d="M500.1,494.6 L501.2,494.2 L502.6,493.7 L504.3,493.0 L506.2,492.3 L508.2,491.4 L510.1,490.4 L512.0,489.3 L514.1,488.2 L516.1,486.8 L518.3,485.4 L520.5,483.7 L522.9,481.9 L525.3,479.7 L527.8,477.2 L530.4,474.6 L533.1,471.8 L535.6,469.1 L538.1,466.4 L540.4,463.8 L542.7,461.2 L544.9,458.6 L547.0,456.1 L549.2,453.6 L551.4,451.2 L553.5,448.7 L555.7,446.3 L557.9,443.8 L560.0,441.6 L562.2,439.6 L564.4,438.0 L566.6,436.8 L568.8,435.9 L571.1,435.3 L573.3,434.9 L575.5,434.7 L577.6,434.7 L579.6,434.8 L581.5,435.1 L583.4,435.7 L585.2,436.3 L586.9,437.1 L588.6,438.0 L590.2,439.0 L591.8,440.0 L593.3,441.2 L594.7,442.5 L596.2,444.0 L597.6,445.5 L599.0,447.3 L600.2,449.3 L601.4,451.5 L602.8,453.7 L604.3,455.8 L606.1,457.9 L608.3,459.8 L610.8,461.7 L613.4,463.5 L616.2,465.3 L619.0,467.0 L621.6,468.7 L624.1,470.3 L626.6,471.8 L629.1,473.2 L631.6,474.6 L634.2,476.0 L636.9,477.5 L639.5,479.0 L642.2,480.5 L644.9,482.1 L647.8,483.6 L650.9,485.0 L654.4,486.2 L658.3,487.4 L662.6,488.4 L667.2,489.3 L671.8,490.1 L676.4,490.8 L680.6,491.5 L684.5,492.0 L688.1,492.4 L691.7,492.8 L695.2,493.1 L698.8,493.3 L702.6,493.6 L706.9,493.8 L711.6,494.0 L716.5,494.1 L721.0,494.2 L724.8,494.3 L727.6,494.4" fill="none" stroke="#f07020" stroke-width="2.20" stroke-linejoin="round" stroke-linecap="butt" stroke-dasharray="5.5,3.2"/>
<path d="M445.1,494.6 L445.8,493.3 L446.7,491.4 L447.8,489.2 L449.0,486.9 L450.2,484.4 L451.4,482.1 L452.4,479.8 L453.4,477.5 L454.4,475.2 L455.4,472.7 L456.5,470.2 L457.6,467.5 L458.8,464.5 L460.1,461.3 L461.4,457.9 L462.7,454.6 L464.0,451.5 L465.1,448.7 L466.0,446.2 L466.9,443.9 L467.6,441.9 L468.3,439.9 L469.2,438.0 L470.1,436.1 L471.2,434.2 L472.5,432.3 L473.8,430.5 L475.1,428.7 L476.4,427.1 L477.6,425.7 L478.6,424.4 L479.6,423.3 L480.5,422.2 L481.4,421.4 L482.4,420.8 L483.4,420.5 L484.4,420.5 L485.5,420.7 L486.7,421.2 L487.8,421.9 L489.0,422.7 L490.1,423.6 L491.2,424.7 L492.3,425.9 L493.4,427.3 L494.5,428.8 L495.5,430.4 L496.6,432.0 L497.6,433.6 L498.7,435.3 L499.7,437.0 L500.7,438.8 L501.7,440.6 L502.6,442.4 L503.4,444.1 L504.0,445.6 L504.6,447.2 L505.4,448.8 L506.3,450.7 L507.6,452.8 L509.3,455.5 L511.4,458.5 L513.7,461.7 L516.1,464.9 L518.6,468.0 L520.9,470.6 L523.0,472.8 L525.1,474.7 L527.2,476.5 L529.4,478.1 L531.6,479.6 L533.9,481.0 L536.3,482.5 L538.7,483.9 L541.3,485.1 L543.9,486.3 L546.5,487.4 L549.1,488.3 L551.6,489.1 L554.0,489.7 L556.5,490.2 L559.1,490.7 L561.9,491.1 L565.1,491.5 L568.7,491.9 L572.8,492.3 L577.0,492.7 L581.4,493.0 L585.8,493.3 L590.1,493.6 L594.6,493.8 L599.4,494.0 L604.2,494.1 L608.6,494.2 L612.4,494.3 L615.1,494.4" fill="none" stroke="#a09050" stroke-width="2.20" stroke-linejoin="round" stroke-linecap="butt" stroke-dasharray="5.5,3.2"/>
<path d="M460.1,494.6 L460.6,494.2 L461.3,493.8 L462.1,493.3 L463.1,492.6 L464.1,491.7 L465.1,490.4 L466.1,488.8 L467.2,486.9 L468.4,484.8 L469.6,482.5 L470.9,480.0 L472.4,477.5 L474.0,474.8 L475.7,471.9 L477.6,468.9 L479.6,465.8 L481.5,462.8 L483.4,459.9 L485.2,457.1 L486.9,454.2 L488.7,451.3 L490.5,448.6 L492.3,446.3 L494.1,444.5 L496.0,443.2 L497.9,442.4 L499.9,442.0 L501.7,441.7 L503.5,441.6 L505.1,441.4 L506.4,441.1 L507.6,440.9 L508.6,440.8 L509.6,440.9 L510.7,441.0 L511.9,441.4 L513.1,441.9 L514.5,442.5 L515.8,443.3 L517.3,444.2 L518.9,445.3 L520.6,446.6 L522.5,448.1 L524.6,449.8 L526.8,451.6 L529.1,453.6 L531.4,455.6 L533.6,457.6 L535.8,459.8 L538.0,462.1 L540.2,464.4 L542.4,466.7 L544.6,468.9 L546.9,470.8 L549.0,472.4 L551.2,473.8 L553.4,475.1 L555.5,476.2 L557.8,477.4 L560.1,478.5 L562.5,479.7 L565.1,481.0 L567.7,482.2 L570.3,483.4 L572.9,484.4 L575.4,485.2 L577.7,485.8 L579.9,486.2 L582.1,486.5 L584.2,486.8 L586.4,487.0 L588.6,487.3 L590.8,487.6 L592.8,488.0 L594.9,488.3 L597.1,488.6 L599.6,489.0 L602.6,489.4 L606.1,489.8 L610.1,490.3 L614.4,490.8 L618.9,491.2 L623.3,491.7 L627.6,492.1 L631.8,492.4 L635.9,492.8 L640.1,493.1 L644.3,493.3 L648.4,493.6 L652.6,493.8 L657.1,493.9 L661.9,494.1 L666.7,494.2 L671.1,494.3 L674.9,494.3 L677.6,494.4" fill="none" stroke="#2020f0" stroke-width="2.20" stroke-linejoin="round" stroke-linecap="butt" stroke-dasharray="5.5,3.2"/>
<path d="M470.1,494.6 L470.8,493.7 L471.7,492.6 L472.8,491.2 L474.0,489.4 L475.2,487.1 L476.4,484.2 L477.5,480.5 L478.6,476.2 L479.7,471.4 L480.9,466.2 L482.1,460.9 L483.4,455.6 L484.7,450.0 L486.1,444.1 L487.6,438.0 L489.1,431.9 L490.6,426.0 L492.1,420.5 L493.5,415.3 L494.9,410.3 L496.3,405.5 L497.8,400.8 L499.3,396.3 L500.9,391.9 L502.6,387.4 L504.5,383.0 L506.5,378.7 L508.4,374.7 L510.3,371.0 L511.9,367.9 L513.2,365.3 L514.3,363.2 L515.3,361.5 L516.3,360.1 L517.2,358.9 L518.4,357.8 L519.6,356.9 L520.9,356.1 L522.2,355.6 L523.5,355.3 L524.8,355.3 L526.1,355.7 L527.3,356.6 L528.6,357.9 L529.8,359.6 L531.0,361.4 L532.3,363.5 L533.6,365.6 L535.0,367.7 L536.4,370.0 L537.9,372.4 L539.4,375.0 L541.0,377.8 L542.6,380.8 L544.3,384.0 L546.1,387.5 L548.0,391.2 L549.9,395.0 L551.8,398.9 L553.6,402.7 L555.4,406.7 L557.2,410.7 L559.0,414.8 L560.8,419.0 L562.5,423.0 L564.4,426.9 L566.2,430.8 L568.0,434.6 L569.8,438.3 L571.7,442.0 L573.5,445.5 L575.4,448.9 L577.2,452.1 L579.0,455.2 L580.9,458.3 L582.7,461.1 L584.5,463.9 L586.4,466.4 L588.2,468.8 L589.9,471.0 L591.7,473.1 L593.5,475.0 L595.4,476.8 L597.4,478.5 L599.4,480.1 L601.4,481.5 L603.4,482.9 L605.6,484.1 L608.0,485.2 L610.6,486.2 L613.5,487.2 L616.5,488.1 L619.8,488.9 L623.1,489.6 L626.6,490.2 L630.1,490.8 L633.6,491.4 L637.3,491.9 L641.0,492.3 L644.8,492.7 L648.7,493.0 L652.6,493.3 L656.9,493.6 L661.7,493.8 L666.5,494.0 L671.0,494.2 L674.9,494.3 L677.6,494.4" fill="none" stroke="#30a0c0" stroke-width="2.20" stroke-linejoin="round" stroke-linecap="butt" stroke-dasharray="5.5,3.2"/>
<path d="M495.1,494.6 L495.6,494.1 L496.4,493.6 L497.3,492.8 L498.2,491.8 L499.2,490.4 L500.1,488.3 L500.9,485.7 L501.7,482.6 L502.5,479.0 L503.3,475.1 L504.2,470.9 L505.1,466.4 L506.1,461.6 L507.2,456.2 L508.4,450.6 L509.6,444.8 L510.7,439.1 L511.9,433.6 L512.9,428.4 L514.0,423.3 L515.0,418.2 L516.0,413.1 L517.1,408.0 L518.4,402.9 L519.7,397.7 L521.0,392.5 L522.4,387.2 L523.9,382.0 L525.5,376.9 L527.1,372.0 L528.8,367.3 L530.6,362.6 L532.5,358.1 L534.4,353.8 L536.2,349.6 L538.1,345.7 L539.9,342.1 L541.8,338.7 L543.6,335.5 L545.4,332.6 L547.3,329.8 L549.1,327.1 L551.0,324.7 L552.9,322.4 L554.8,320.3 L556.7,318.3 L558.5,316.6 L560.1,315.0 L561.6,313.7 L562.9,312.6 L564.2,311.7 L565.4,311.0 L566.5,310.4 L567.6,309.8 L568.6,309.3 L569.5,308.9 L570.3,308.7 L571.1,308.5 L572.0,308.5 L573.1,308.6 L574.4,308.7 L575.8,308.8 L577.3,309.0 L578.8,309.5 L580.4,310.4 L581.9,311.9 L583.3,314.1 L584.8,316.8 L586.4,320.0 L587.8,323.5 L589.3,327.0 L590.6,330.5 L591.8,333.9 L593.0,337.5 L594.1,341.1 L595.2,344.8 L596.3,348.6 L597.4,352.4 L598.4,356.3 L599.5,360.2 L600.5,364.2 L601.5,368.3 L602.6,372.4 L603.9,376.6 L605.2,380.9 L606.6,385.3 L608.1,389.8 L609.6,394.2 L611.1,398.6 L612.6,402.9 L614.1,407.1 L615.5,411.3 L617.0,415.3 L618.5,419.3 L620.0,423.3 L621.6,427.2 L623.2,431.0 L624.9,434.7 L626.6,438.4 L628.4,442.0 L630.3,445.6 L632.4,449.1 L634.6,452.6 L637.1,456.0 L639.7,459.4 L642.4,462.7 L645.1,465.8 L647.9,468.7 L650.6,471.3 L653.4,473.7 L656.2,476.0 L659.1,478.0 L662.1,480.0 L665.4,481.9 L668.7,483.6 L672.3,485.3 L676.0,486.9 L679.8,488.3 L683.6,489.6 L687.4,490.6 L691.2,491.5 L695.1,492.1 L699.0,492.6 L702.9,493.0 L706.6,493.3 L710.1,493.6 L713.5,493.8 L717.0,494.0 L720.3,494.2 L723.3,494.3 L725.8,494.3 L727.6,494.4" fill="none" stroke="#f070e0" stroke-width="2.20" stroke-linejoin="round" stroke-linecap="butt" stroke-dasharray="5.5,3.2"/>
<path d="M485.1,494.6 L485.6,494.1 L486.4,493.6 L487.2,492.8 L488.2,491.8 L489.1,490.4 L490.1,488.3 L491.1,485.7 L492.1,482.6 L493.1,479.0 L494.2,475.1 L495.3,470.9 L496.4,466.4 L497.4,461.6 L498.5,456.5 L499.6,451.0 L500.8,445.3 L501.9,439.5 L503.1,433.6 L504.3,427.6 L505.5,421.2 L506.6,414.7 L507.9,408.2 L509.2,402.0 L510.6,396.3 L512.1,391.0 L513.7,386.0 L515.4,381.2 L517.1,376.7 L518.8,372.2 L520.6,367.9 L522.4,363.5 L524.3,359.1 L526.2,354.8 L528.1,350.7 L529.9,347.0 L531.6,343.6 L533.2,340.7 L534.7,338.1 L536.1,335.8 L537.5,333.8 L538.9,332.0 L540.4,330.5 L541.8,329.1 L543.3,327.8 L544.7,326.8 L546.2,326.1 L547.6,325.8 L549.1,326.1 L550.6,327.0 L552.1,328.5 L553.6,330.4 L555.1,332.6 L556.5,334.8 L557.9,337.0 L559.0,338.8 L560.1,340.6 L561.1,342.4 L562.1,344.5 L563.2,347.0 L564.4,350.1 L565.7,354.0 L567.1,358.7 L568.6,363.7 L570.1,368.9 L571.6,374.0 L573.1,378.7 L574.6,383.0 L576.1,387.2 L577.6,391.2 L579.1,395.2 L580.6,399.1 L582.1,402.9 L583.6,406.7 L585.0,410.4 L586.5,414.0 L587.9,417.6 L589.4,421.2 L590.9,424.9 L592.3,428.6 L593.8,432.5 L595.2,436.4 L596.7,440.1 L598.1,443.6 L599.6,446.8 L601.0,449.5 L602.3,451.7 L603.6,453.8 L605.0,455.7 L606.5,457.7 L608.4,459.9 L610.5,462.4 L612.8,465.1 L615.3,467.8 L617.9,470.5 L620.7,473.1 L623.6,475.4 L626.6,477.5 L629.8,479.6 L633.1,481.5 L636.5,483.2 L639.9,484.8 L643.4,486.2 L646.8,487.5 L650.3,488.5 L653.9,489.4 L657.5,490.2 L661.3,490.8 L665.1,491.5 L669.1,492.0 L673.2,492.5 L677.4,492.9 L681.6,493.2 L685.9,493.5 L690.1,493.8 L694.6,494.0 L699.4,494.1 L704.2,494.2 L708.6,494.3 L712.4,494.3 L715.1,494.4" fill="none" stroke="#2020e0" stroke-width="2.20" stroke-linejoin="round" stroke-linecap="butt" stroke-dasharray="5.5,3.2"/>
<path d="M440.1,494.6 L440.2,493.4 L440.3,491.9 L440.4,490.0 L440.6,487.8 L440.9,485.2 L441.4,482.1 L441.9,478.4 L442.7,474.0 L443.6,469.3 L444.4,464.4 L445.3,459.5 L446.1,454.9 L446.8,450.6 L447.5,446.3 L448.1,442.1 L448.8,438.0 L449.4,433.9 L450.1,429.9 L450.8,425.9 L451.5,421.8 L452.3,417.9 L453.0,414.0 L453.8,410.3 L454.6,406.9 L455.4,403.6 L456.3,400.5 L457.2,397.6 L458.1,394.8 L459.1,392.4 L460.1,390.2 L461.2,388.3 L462.3,386.7 L463.5,385.4 L464.6,384.3 L465.8,383.5 L466.9,383.1 L467.9,383.1 L468.9,383.6 L469.9,384.3 L470.9,385.2 L471.8,386.2 L472.6,387.1 L473.4,387.8 L474.0,388.4 L474.7,389.1 L475.3,390.0 L475.9,391.0 L476.6,392.3 L477.4,394.0 L478.1,396.0 L479.0,398.2 L479.8,400.5 L480.6,402.7 L481.4,404.8 L482.0,406.7 L482.6,408.4 L483.2,410.1 L483.9,411.9 L484.6,413.8 L485.6,416.1 L486.8,418.7 L488.2,421.6 L489.7,424.6 L491.3,427.8 L492.8,430.9 L494.4,434.0 L495.8,437.1 L497.2,440.3 L498.6,443.5 L500.0,446.6 L501.5,449.8 L503.1,452.8 L504.8,455.9 L506.5,459.1 L508.3,462.2 L510.2,465.2 L512.1,468.0 L514.1,470.6 L516.1,472.9 L518.1,475.1 L520.2,477.0 L522.3,478.9 L524.6,480.5 L527.1,482.1 L529.8,483.4 L532.7,484.6 L535.7,485.7 L538.8,486.6 L541.9,487.5 L545.1,488.3 L548.3,489.1 L551.4,489.9 L554.7,490.5 L558.0,491.1 L561.5,491.6 L565.1,492.1 L569.0,492.5 L573.1,492.8 L577.3,493.1 L581.6,493.4 L585.9,493.6 L590.1,493.8 L594.6,493.9 L599.4,494.1 L604.2,494.2 L608.6,494.3 L612.4,494.3 L615.1,494.4" fill="none" stroke="#8020b0" stroke-width="2.20" stroke-linejoin="round" stroke-linecap="butt" stroke-dasharray="5.5,3.2"/>
<path d="M440.1,296.2 L440.4,296.2 L440.7,296.1 L441.2,296.0 L441.7,296.2 L442.2,296.9 L442.6,298.3 L443.0,300.6 L443.4,303.7 L443.7,307.2 L444.1,311.1 L444.6,315.1 L445.1,319.2 L445.7,323.4 L446.4,327.9 L447.2,332.6 L447.9,337.4 L448.7,342.0 L449.4,346.4 L449.9,350.4 L450.5,354.4 L451.0,358.2 L451.5,362.0 L452.0,365.7 L452.6,369.3 L453.2,373.0 L453.9,376.6 L454.6,380.2 L455.4,383.6 L456.1,387.0 L456.9,390.2 L457.6,393.3 L458.4,396.2 L459.1,399.0 L459.9,401.7 L460.6,404.3 L461.4,406.9 L462.0,409.3 L462.6,411.7 L463.1,413.9 L463.7,416.1 L464.3,418.3 L465.1,420.5 L466.0,422.7 L467.0,425.0 L468.0,427.2 L469.1,429.4 L470.2,431.7 L471.4,434.0 L472.5,436.5 L473.8,439.0 L475.0,441.6 L476.3,444.1 L477.6,446.5 L478.9,448.7 L480.1,450.7 L481.3,452.5 L482.6,454.3 L483.8,455.9 L485.1,457.5 L486.4,459.1 L487.6,460.6 L488.9,462.0 L490.2,463.4 L491.5,464.7 L492.8,466.1 L494.1,467.5 L495.5,468.9 L496.9,470.3 L498.3,471.8 L499.7,473.2 L501.1,474.5 L502.6,475.8 L504.0,477.0 L505.3,478.1 L506.7,479.1 L508.1,480.1 L509.7,481.1 L511.6,482.1 L513.8,483.0 L516.3,484.0 L519.0,484.9 L521.7,485.7 L524.4,486.6 L526.9,487.3 L529.0,487.9 L531.0,488.5 L532.9,489.0 L534.9,489.5 L537.2,490.0 L540.1,490.4 L543.6,490.9 L547.6,491.4 L551.9,491.9 L556.3,492.4 L560.8,492.8 L565.1,493.1 L569.6,493.4 L574.4,493.6 L579.2,493.8 L583.6,494.0 L587.4,494.1 L590.1,494.2" fill="none" stroke="#f04848" stroke-width="2.20" stroke-linejoin="round" stroke-linecap="butt" stroke-dasharray="5.5,3.2"/>
<path d="M440.1,285.8 L440.1,494.6 L752.6,494.6" fill="none" stroke="#000" stroke-width="2.2"/>
<line x1="433.1" y1="494.6" x2="441.1" y2="494.6" stroke="#000" stroke-width="2.2"/>
<text x="430.8" y="501.6" font-size="15" font-weight="bold" text-anchor="end" font-family="Liberation Sans, sans-serif">0.0</text>
<line x1="433.1" y1="452.8" x2="441.1" y2="452.8" stroke="#000" stroke-width="2.2"/>
<text x="430.8" y="459.8" font-size="15" font-weight="bold" text-anchor="end" font-family="Liberation Sans, sans-serif">0.2</text>
<line x1="433.1" y1="411.1" x2="441.1" y2="411.1" stroke="#000" stroke-width="2.2"/>
<text x="430.8" y="418.1" font-size="15" font-weight="bold" text-anchor="end" font-family="Liberation Sans, sans-serif">0.4</text>
<line x1="433.1" y1="369.3" x2="441.1" y2="369.3" stroke="#000" stroke-width="2.2"/>
<text x="430.8" y="376.3" font-size="15" font-weight="bold" text-anchor="end" font-family="Liberation Sans, sans-serif">0.6</text>
<line x1="433.1" y1="327.6" x2="441.1" y2="327.6" stroke="#000" stroke-width="2.2"/>
<text x="430.8" y="334.6" font-size="15" font-weight="bold" text-anchor="end" font-family="Liberation Sans, sans-serif">0.8</text>
<line x1="433.1" y1="285.8" x2="441.1" y2="285.8" stroke="#000" stroke-width="2.2"/>
<text x="430.8" y="292.8" font-size="15" font-weight="bold" text-anchor="end" font-family="Liberation Sans, sans-serif">1.0</text>
<line x1="440.1" y1="493.6" x2="440.1" y2="501.6" stroke="#000" stroke-width="2.2"/>
<text x="440.1" y="517.4" font-size="15" font-weight="bold" text-anchor="middle" font-family="Liberation Sans, sans-serif">0.0</text>
<line x1="502.6" y1="493.6" x2="502.6" y2="501.6" stroke="#000" stroke-width="2.2"/>
<text x="502.6" y="517.4" font-size="15" font-weight="bold" text-anchor="middle" font-family="Liberation Sans, sans-serif">2.5</text>
<line x1="565.1" y1="493.6" x2="565.1" y2="501.6" stroke="#000" stroke-width="2.2"/>
<text x="565.1" y="517.4" font-size="15" font-weight="bold" text-anchor="middle" font-family="Liberation Sans, sans-serif">5.0</text>
<line x1="627.6" y1="493.6" x2="627.6" y2="501.6" stroke="#000" stroke-width="2.2"/>
<text x="627.6" y="517.4" font-size="15" font-weight="bold" text-anchor="middle" font-family="Liberation Sans, sans-serif">7.5</text>
<line x1="690.1" y1="493.6" x2="690.1" y2="501.6" stroke="#000" stroke-width="2.2"/>
<text x="690.1" y="517.4" font-size="15" font-weight="bold" text-anchor="middle" font-family="Liberation Sans, sans-serif">10.0</text>
<line x1="752.6" y1="493.6" x2="752.6" y2="501.6" stroke="#000" stroke-width="2.2"/>
<text x="752.6" y="517.4" font-size="15" font-weight="bold" text-anchor="middle" font-family="Liberation Sans, sans-serif">12.5</text>
<text x="598.5" y="533.1" font-size="16.8" font-weight="bold" text-anchor="middle" font-family="Liberation Sans, sans-serif">time</text>
<text transform="translate(405.3,396.4) rotate(-90)" font-size="14.5" font-weight="bold" text-anchor="middle" font-family="Liberation Sans, sans-serif">activation</text>
<line x1="651.3" y1="300.4" x2="682.4" y2="300.4" stroke="#e03080" stroke-width="2.4" stroke-dasharray="7.5,4.3"/>
<text x="695.7" y="304.8" font-size="12.3" font-family="Liberation Sans, sans-serif">COR</text>
<line x1="651.3" y1="314.3" x2="682.4" y2="314.3" stroke="#f070e0" stroke-width="2.4" stroke-dasharray="7.5,4.3"/>
<text x="695.7" y="318.7" font-size="12.3" font-family="Liberation Sans, sans-serif">MAPK</text>
<line x1="651.3" y1="328.1" x2="682.4" y2="328.1" stroke="#2020e0" stroke-width="2.4" stroke-dasharray="7.5,4.3"/>
<text x="695.7" y="332.5" font-size="12.3" font-family="Liberation Sans, sans-serif">MAPK2</text>
<line x1="651.3" y1="343.2" x2="682.4" y2="343.2" stroke="#30a0c0" stroke-width="2.4" stroke-dasharray="7.5,4.3"/>
<text x="695.7" y="347.6" font-size="12.3" font-family="Liberation Sans, sans-serif">MAPK3</text>
<line x1="651.3" y1="355.7" x2="682.4" y2="355.7" stroke="#30c030" stroke-width="2.4" stroke-dasharray="7.5,4.3"/>
<text x="695.7" y="360.1" font-size="12.3" font-family="Liberation Sans, sans-serif">Resistance</text>
<line x1="651.3" y1="368.6" x2="682.4" y2="368.6" stroke="#f07020" stroke-width="2.4" stroke-dasharray="7.5,4.3"/>
<text x="695.7" y="373.0" font-size="12.3" font-family="Liberation Sans, sans-serif">SA</text>
<line x1="651.3" y1="380.0" x2="682.4" y2="380.0" stroke="#a09060" stroke-width="2.4" stroke-dasharray="7.5,4.3"/>
<text x="695.7" y="384.4" font-size="12.3" font-family="Liberation Sans, sans-serif">SCF-COI1</text>
<line x1="651.3" y1="395.6" x2="682.4" y2="395.6" stroke="#2020f0" stroke-width="2.4" stroke-dasharray="7.5,4.3"/>
<text x="695.7" y="400.0" font-size="12.3" font-family="Liberation Sans, sans-serif">Stomata Clo.</text>
<line x1="651.3" y1="409.4" x2="682.4" y2="409.4" stroke="#f09090" stroke-width="2.4" stroke-dasharray="7.5,4.3"/>
<text x="695.7" y="413.8" font-size="12.3" font-family="Liberation Sans, sans-serif">TGA3</text>
<line x1="651.3" y1="421.0" x2="682.4" y2="421.0" stroke="#a01010" stroke-width="2.4" stroke-dasharray="7.5,4.3"/>
<text x="695.7" y="425.4" font-size="12.3" font-family="Liberation Sans, sans-serif">PDF1.2</text>
<line x1="651.3" y1="433.7" x2="682.4" y2="433.7" stroke="#8020b0" stroke-width="2.4" stroke-dasharray="7.5,4.3"/>
<text x="695.7" y="438.1" font-size="12.3" font-family="Liberation Sans, sans-serif">HopIA1</text>
<line x1="651.3" y1="450.1" x2="682.4" y2="450.1" stroke="#f05050" stroke-width="2.4" stroke-dasharray="7.5,4.3"/>
<text x="695.7" y="454.5" font-size="12.3" font-family="Liberation Sans, sans-serif">Pst DC3000</text>
<text x="0.2" y="568.7" font-size="18.5" font-weight="bold" font-family="Liberation Sans, sans-serif">B</text>
<text transform="translate(70.8,556.6) rotate(90)" font-size="7.9" letter-spacing="0.55" stroke="#000" stroke-width="0.12" font-family="Liberation Sans, sans-serif">NDR1</text>
<text transform="translate(82.8,556.6) rotate(90)" font-size="7.9" letter-spacing="0.55" stroke="#000" stroke-width="0.12" font-family="Liberation Sans, sans-serif">CC-NB-L</text>
<text transform="translate(94.8,556.6) rotate(90)" font-size="7.9" letter-spacing="0.55" stroke="#000" stroke-width="0.12" font-family="Liberation Sans, sans-serif">TIR-NB-L</text>
<text transform="translate(106.8,556.6) rotate(90)" font-size="7.9" letter-spacing="0.55" stroke="#000" stroke-width="0.12" font-family="Liberation Sans, sans-serif">HopAI1<tspan font-size="15" dy="5.9" letter-spacing="0">*</tspan></text>
<text transform="translate(118.8,556.6) rotate(90)" font-size="7.9" letter-spacing="0.55" stroke="#000" stroke-width="0.12" font-family="Liberation Sans, sans-serif">AvrRpt2 <tspan font-size="15" dy="5.9" letter-spacing="0">*</tspan></text>
<text transform="translate(130.8,556.6) rotate(90)" font-size="7.9" letter-spacing="0.55" stroke="#000" stroke-width="0.12" font-family="Liberation Sans, sans-serif">AvrRPS4 <tspan font-size="15" dy="5.9" letter-spacing="0">*</tspan></text>
<text transform="translate(142.8,556.6) rotate(90)" font-size="7.9" letter-spacing="0.55" stroke="#000" stroke-width="0.12" font-family="Liberation Sans, sans-serif">AvrRPM1 <tspan font-size="15" dy="5.9" letter-spacing="0">*</tspan></text>
<text transform="translate(154.8,556.6) rotate(90)" font-size="7.9" letter-spacing="0.55" stroke="#000" stroke-width="0.12" font-family="Liberation Sans, sans-serif">AvrPtoB <tspan font-size="15" dy="5.9" letter-spacing="0">*</tspan></text>
<text transform="translate(166.8,556.6) rotate(90)" font-size="7.9" letter-spacing="0.55" stroke="#000" stroke-width="0.12" font-family="Liberation Sans, sans-serif">KY 23/33</text>
<text transform="translate(178.8,556.6) rotate(90)" font-size="7.9" letter-spacing="0.55" stroke="#000" stroke-width="0.12" font-family="Liberation Sans, sans-serif">PAD4/EDS1</text>
<text transform="translate(190.8,556.6) rotate(90)" font-size="7.9" letter-spacing="0.55" stroke="#000" stroke-width="0.12" font-family="Liberation Sans, sans-serif">FLS2/BAK1</text>
<text transform="translate(202.8,556.6) rotate(90)" font-size="7.9" letter-spacing="0.55" stroke="#000" stroke-width="0.12" font-family="Liberation Sans, sans-serif">miR393</text>
<text transform="translate(214.8,556.6) rotate(90)" font-size="7.9" letter-spacing="0.55" stroke="#000" stroke-width="0.12" font-family="Liberation Sans, sans-serif">WRKY70</text>
<text transform="translate(226.8,556.6) rotate(90)" font-size="7.9" letter-spacing="0.55" stroke="#000" stroke-width="0.12" font-family="Liberation Sans, sans-serif">WRKY62</text>
<text transform="translate(238.8,556.6) rotate(90)" font-size="7.9" letter-spacing="0.55" stroke="#000" stroke-width="0.12" font-family="Liberation Sans, sans-serif">TIR1</text>
<text transform="translate(250.8,556.6) rotate(90)" font-size="7.9" letter-spacing="0.55" stroke="#000" stroke-width="0.12" font-family="Liberation Sans, sans-serif">TGA_TF</text>
<text transform="translate(262.8,556.6) rotate(90)" font-size="7.9" letter-spacing="0.55" stroke="#000" stroke-width="0.12" font-family="Liberation Sans, sans-serif">Sto-Clos.</text>
<text transform="translate(274.8,556.6) rotate(90)" font-size="7.9" letter-spacing="0.55" stroke="#000" stroke-width="0.12" font-family="Liberation Sans, sans-serif">SCF-COI_1</text>
<text transform="translate(286.8,556.6) rotate(90)" font-size="7.9" letter-spacing="0.55" stroke="#000" stroke-width="0.12" font-family="Liberation Sans, sans-serif">SA</text>
<text transform="translate(298.8,556.6) rotate(90)" font-size="7.9" letter-spacing="0.55" stroke="#000" stroke-width="0.12" font-family="Liberation Sans, sans-serif">Resist.</text>
<text transform="translate(310.8,556.6) rotate(90)" font-size="7.9" letter-spacing="0.55" stroke="#000" stroke-width="0.12" font-family="Liberation Sans, sans-serif">ROS</text>
<text transform="translate(322.8,556.6) rotate(90)" font-size="7.9" letter-spacing="0.55" stroke="#000" stroke-width="0.12" font-family="Liberation Sans, sans-serif">PR-1</text>
<text transform="translate(334.8,556.6) rotate(90)" font-size="7.9" letter-spacing="0.55" stroke="#000" stroke-width="0.12" font-family="Liberation Sans, sans-serif">PDF1.2</text>
<text transform="translate(346.8,556.6) rotate(90)" font-size="7.9" letter-spacing="0.55" stroke="#000" stroke-width="0.12" font-family="Liberation Sans, sans-serif">NPR1</text>
<text transform="translate(358.8,556.6) rotate(90)" font-size="7.9" letter-spacing="0.55" stroke="#000" stroke-width="0.12" font-family="Liberation Sans, sans-serif">NAD-oxi</text>
<text transform="translate(370.8,556.6) rotate(90)" font-size="7.9" letter-spacing="0.55" stroke="#000" stroke-width="0.12" font-family="Liberation Sans, sans-serif">MYC2</text>
<text transform="translate(382.8,556.6) rotate(90)" font-size="7.9" letter-spacing="0.55" stroke="#000" stroke-width="0.12" font-family="Liberation Sans, sans-serif">MSK1</text>
<text transform="translate(394.8,556.6) rotate(90)" font-size="7.9" letter-spacing="0.55" stroke="#000" stroke-width="0.12" font-family="Liberation Sans, sans-serif">MAPK4</text>
<text transform="translate(406.8,556.6) rotate(90)" font-size="7.9" letter-spacing="0.55" stroke="#000" stroke-width="0.12" font-family="Liberation Sans, sans-serif">MAPK3</text>
<text transform="translate(418.8,556.6) rotate(90)" font-size="7.9" letter-spacing="0.55" stroke="#000" stroke-width="0.12" font-family="Liberation Sans, sans-serif">MAPK2</text>
<text transform="translate(430.8,556.6) rotate(90)" font-size="7.9" letter-spacing="0.55" stroke="#000" stroke-width="0.12" font-family="Liberation Sans, sans-serif">MAPK</text>
<text transform="translate(442.8,556.6) rotate(90)" font-size="7.9" letter-spacing="0.55" stroke="#000" stroke-width="0.12" font-family="Liberation Sans, sans-serif">LPO</text>
<text transform="translate(454.8,556.6) rotate(90)" font-size="7.9" letter-spacing="0.55" stroke="#000" stroke-width="0.12" font-family="Liberation Sans, sans-serif">JAZ</text>
<text transform="translate(466.8,556.6) rotate(90)" font-size="7.9" letter-spacing="0.55" stroke="#000" stroke-width="0.12" font-family="Liberation Sans, sans-serif">JA</text>
<text transform="translate(478.8,556.6) rotate(90)" font-size="7.9" letter-spacing="0.55" stroke="#000" stroke-width="0.12" font-family="Liberation Sans, sans-serif">GRX480</text>
<text transform="translate(490.8,556.6) rotate(90)" font-size="7.9" letter-spacing="0.55" stroke="#000" stroke-width="0.12" font-family="Liberation Sans, sans-serif">Flag</text>
<text transform="translate(502.8,556.6) rotate(90)" font-size="7.9" letter-spacing="0.55" stroke="#000" stroke-width="0.12" font-family="Liberation Sans, sans-serif">Ethylene</text>
<text transform="translate(514.8,556.6) rotate(90)" font-size="7.9" letter-spacing="0.55" stroke="#000" stroke-width="0.12" font-family="Liberation Sans, sans-serif">ETR</text>
<text transform="translate(526.8,556.6) rotate(90)" font-size="7.9" letter-spacing="0.55" stroke="#000" stroke-width="0.12" font-family="Liberation Sans, sans-serif">ERF1</text>
<text transform="translate(538.8,556.6) rotate(90)" font-size="7.9" letter-spacing="0.55" stroke="#000" stroke-width="0.12" font-family="Liberation Sans, sans-serif">EIN3</text>
<text transform="translate(550.8,556.6) rotate(90)" font-size="7.9" letter-spacing="0.55" stroke="#000" stroke-width="0.12" font-family="Liberation Sans, sans-serif">EIN2</text>
<text transform="translate(562.8,556.6) rotate(90)" font-size="7.9" letter-spacing="0.55" stroke="#000" stroke-width="0.12" font-family="Liberation Sans, sans-serif">EFR</text>
<text transform="translate(574.8,556.6) rotate(90)" font-size="7.9" letter-spacing="0.55" stroke="#000" stroke-width="0.12" font-family="Liberation Sans, sans-serif">EF</text>
<text transform="translate(586.8,556.6) rotate(90)" font-size="7.9" letter-spacing="0.55" stroke="#000" stroke-width="0.12" font-family="Liberation Sans, sans-serif">Della_Prot.</text>
<text transform="translate(598.8,556.6) rotate(90)" font-size="7.9" letter-spacing="0.55" stroke="#000" stroke-width="0.12" font-family="Liberation Sans, sans-serif">CKK</text>
<text transform="translate(610.8,556.6) rotate(90)" font-size="7.9" letter-spacing="0.55" stroke="#000" stroke-width="0.12" font-family="Liberation Sans, sans-serif">Callose</text>
<text transform="translate(622.8,556.6) rotate(90)" font-size="7.9" letter-spacing="0.55" stroke="#000" stroke-width="0.12" font-family="Liberation Sans, sans-serif">Auxin</text>
<text transform="translate(634.8,556.6) rotate(90)" font-size="7.9" letter-spacing="0.55" stroke="#000" stroke-width="0.12" font-family="Liberation Sans, sans-serif">Aux/IAA</text>
<text transform="translate(646.8,556.6) rotate(90)" font-size="7.9" letter-spacing="0.55" stroke="#000" stroke-width="0.12" font-family="Liberation Sans, sans-serif">AOS</text>
<text transform="translate(658.8,556.6) rotate(90)" font-size="7.9" letter-spacing="0.55" stroke="#000" stroke-width="0.12" font-family="Liberation Sans, sans-serif">AOC</text>
<text transform="translate(670.8,556.6) rotate(90)" font-size="7.9" letter-spacing="0.55" stroke="#000" stroke-width="0.12" font-family="Liberation Sans, sans-serif">ARF1</text>
<text transform="translate(682.8,556.6) rotate(90)" font-size="7.9" letter-spacing="0.55" stroke="#000" stroke-width="0.12" font-family="Liberation Sans, sans-serif">ABA</text>
<text transform="translate(694.8,556.6) rotate(90)" font-size="7.9" letter-spacing="0.55" stroke="#000" stroke-width="0.12" font-family="Liberation Sans, sans-serif">OPR</text>
<text transform="translate(722.4,555.5) rotate(90)" font-size="8.6" stroke="#000" stroke-width="0.2" font-family="Liberation Sans, sans-serif">Scale</text>
<path d="M493.0,575.5 L493.0,585.3" stroke="#e02020" stroke-width="1.8"/>
<path d="M489.8,584.3 L496.2,584.3 L493.0,590.3 Z" fill="#e02020"/>
<path d="M578.0,568.5 L578.0,577.0" stroke="#e02020" stroke-width="1.8"/>
<path d="M574.8,576.0 L581.2,576.0 L578.0,582.0 Z" fill="#e02020"/>
<rect x="71.0" y="608.3" width="631.2" height="128.9" fill="#000"/>
<g shape-rendering="crispEdges">
<rect x="164.3" y="618.7" width="12.0" height="10.4" fill="#003e00"/>
<rect x="164.3" y="629.1" width="12.0" height="62.4" fill="#04ff0a"/>
<rect x="164.3" y="691.5" width="12.0" height="10.4" fill="#008800"/>
<rect x="164.3" y="701.9" width="12.0" height="10.4" fill="#003e00"/>
<rect x="176.3" y="618.7" width="12.0" height="62.4" fill="#04ff0a"/>
<rect x="176.3" y="681.1" width="12.0" height="10.4" fill="#008800"/>
<rect x="176.3" y="691.5" width="12.0" height="10.4" fill="#003e00"/>
<rect x="188.3" y="618.7" width="12.0" height="31.2" fill="#04ff0a"/>
<rect x="188.3" y="649.9" width="12.0" height="10.4" fill="#008800"/>
<rect x="188.3" y="660.3" width="12.0" height="10.4" fill="#003e00"/>
<rect x="200.3" y="618.7" width="12.0" height="10.4" fill="#003e00"/>
<rect x="200.3" y="629.1" width="12.0" height="62.4" fill="#04ff0a"/>
<rect x="200.3" y="691.5" width="12.0" height="10.4" fill="#008800"/>
<rect x="200.3" y="701.9" width="12.0" height="10.4" fill="#003e00"/>
<rect x="224.3" y="649.9" width="12.0" height="41.6" fill="#003e00"/>
<rect x="260.3" y="639.5" width="12.0" height="20.8" fill="#003e00"/>
<rect x="284.3" y="629.1" width="12.0" height="10.4" fill="#003e00"/>
<rect x="284.3" y="639.5" width="12.0" height="10.4" fill="#008800"/>
<rect x="284.3" y="649.9" width="12.0" height="20.8" fill="#04ff0a"/>
<rect x="284.3" y="670.7" width="12.0" height="10.4" fill="#008800"/>
<rect x="284.3" y="681.1" width="12.0" height="20.8" fill="#003e00"/>
<rect x="296.3" y="618.7" width="12.0" height="10.4" fill="#008800"/>
<rect x="296.3" y="629.1" width="12.0" height="52.0" fill="#04ff0a"/>
<rect x="296.3" y="681.1" width="12.0" height="20.8" fill="#008800"/>
<rect x="296.3" y="701.9" width="12.0" height="20.8" fill="#003e00"/>
<rect x="308.3" y="618.7" width="12.0" height="52.0" fill="#04ff0a"/>
<rect x="308.3" y="670.7" width="12.0" height="10.4" fill="#008800"/>
<rect x="308.3" y="681.1" width="12.0" height="10.4" fill="#003e00"/>
<rect x="320.3" y="629.1" width="12.0" height="10.4" fill="#003e00"/>
<rect x="320.3" y="639.5" width="12.0" height="20.8" fill="#008800"/>
<rect x="320.3" y="660.3" width="12.0" height="41.6" fill="#04ff0a"/>
<rect x="320.3" y="701.9" width="12.0" height="10.4" fill="#008800"/>
<rect x="320.3" y="712.3" width="12.0" height="10.4" fill="#003e00"/>
<rect x="344.3" y="649.9" width="12.0" height="31.2" fill="#003e00"/>
<rect x="356.3" y="618.7" width="12.0" height="41.6" fill="#04ff0a"/>
<rect x="356.3" y="660.3" width="12.0" height="10.4" fill="#008800"/>
<rect x="356.3" y="670.7" width="12.0" height="20.8" fill="#003e00"/>
<rect x="368.3" y="639.5" width="12.0" height="20.8" fill="#003e00"/>
<rect x="380.3" y="618.7" width="12.0" height="62.4" fill="#04ff0a"/>
<rect x="380.3" y="681.1" width="12.0" height="10.4" fill="#008800"/>
<rect x="380.3" y="691.5" width="12.0" height="10.4" fill="#003e00"/>
<rect x="392.3" y="618.7" width="12.0" height="52.0" fill="#04ff0a"/>
<rect x="392.3" y="670.7" width="12.0" height="10.4" fill="#008800"/>
<rect x="392.3" y="681.1" width="12.0" height="10.4" fill="#003e00"/>
<rect x="404.3" y="618.7" width="12.0" height="62.4" fill="#04ff0a"/>
<rect x="404.3" y="681.1" width="12.0" height="10.4" fill="#008800"/>
<rect x="404.3" y="691.5" width="12.0" height="10.4" fill="#003e00"/>
<rect x="416.3" y="618.7" width="12.0" height="10.4" fill="#003e00"/>
<rect x="416.3" y="629.1" width="12.0" height="62.4" fill="#04ff0a"/>
<rect x="416.3" y="691.5" width="12.0" height="10.4" fill="#008800"/>
<rect x="416.3" y="701.9" width="12.0" height="10.4" fill="#003e00"/>
<rect x="428.3" y="629.1" width="12.0" height="83.2" fill="#04ff0a"/>
<rect x="428.3" y="712.3" width="12.0" height="20.8" fill="#003e00"/>
<rect x="464.3" y="629.1" width="12.0" height="31.2" fill="#003e00"/>
<rect x="488.3" y="608.3" width="12.0" height="31.2" fill="#04ff0a"/>
<rect x="488.3" y="639.5" width="12.0" height="10.4" fill="#008800"/>
<rect x="488.3" y="649.9" width="12.0" height="10.4" fill="#003e00"/>
<rect x="560.3" y="618.7" width="12.0" height="31.2" fill="#04ff0a"/>
<rect x="560.3" y="649.9" width="12.0" height="10.4" fill="#008800"/>
<rect x="560.3" y="660.3" width="12.0" height="10.4" fill="#003e00"/>
<rect x="572.3" y="608.3" width="12.0" height="31.2" fill="#04ff0a"/>
<rect x="572.3" y="639.5" width="12.0" height="10.4" fill="#008800"/>
<rect x="572.3" y="649.9" width="12.0" height="10.4" fill="#003e00"/>
<rect x="584.3" y="618.7" width="12.0" height="41.6" fill="#04ff0a"/>
<rect x="584.3" y="660.3" width="12.0" height="10.4" fill="#008800"/>
<rect x="584.3" y="670.7" width="12.0" height="10.4" fill="#003e00"/>
<rect x="608.3" y="618.7" width="12.0" height="41.6" fill="#04ff0a"/>
<rect x="608.3" y="660.3" width="12.0" height="10.4" fill="#008800"/>
<rect x="608.3" y="670.7" width="12.0" height="20.8" fill="#003e00"/>
<rect x="632.3" y="649.9" width="12.0" height="10.4" fill="#003e00"/>
<rect x="632.3" y="660.3" width="12.0" height="10.4" fill="#008800"/>
<rect x="632.3" y="670.7" width="12.0" height="20.8" fill="#003e00"/>
<rect x="680.3" y="629.1" width="12.0" height="31.2" fill="#008800"/>
<rect x="680.3" y="660.3" width="12.0" height="10.4" fill="#003e00"/>
</g>
<text x="44.3" y="676.0" font-size="14.5" font-weight="bold" letter-spacing="0.6" font-family="Liberation Sans, sans-serif">PTI</text>
<rect x="71.5" y="740.0" width="630.7" height="130.4" fill="#000"/>
<g shape-rendering="crispEdges">
<rect x="71.5" y="750.1" width="11.2" height="52.0" fill="#04ff0a"/>
<rect x="71.5" y="802.1" width="11.2" height="10.4" fill="#008800"/>
<rect x="71.5" y="812.5" width="11.2" height="10.4" fill="#003e00"/>
<rect x="82.7" y="750.1" width="12.0" height="41.6" fill="#04ff0a"/>
<rect x="82.7" y="791.7" width="12.0" height="10.4" fill="#008800"/>
<rect x="82.7" y="802.1" width="12.0" height="10.4" fill="#003e00"/>
<rect x="94.7" y="750.1" width="12.0" height="41.6" fill="#04ff0a"/>
<rect x="94.7" y="791.7" width="12.0" height="10.4" fill="#008800"/>
<rect x="94.7" y="802.1" width="12.0" height="10.4" fill="#003e00"/>
<rect x="106.7" y="740.0" width="12.0" height="30.9" fill="#04ff0a"/>
<rect x="106.7" y="770.9" width="12.0" height="10.4" fill="#008800"/>
<rect x="106.7" y="781.3" width="12.0" height="10.4" fill="#003e00"/>
<rect x="118.7" y="740.0" width="12.0" height="30.9" fill="#04ff0a"/>
<rect x="118.7" y="770.9" width="12.0" height="10.4" fill="#008800"/>
<rect x="118.7" y="781.3" width="12.0" height="10.4" fill="#003e00"/>
<rect x="130.7" y="740.0" width="12.0" height="30.9" fill="#04ff0a"/>
<rect x="130.7" y="770.9" width="12.0" height="10.4" fill="#008800"/>
<rect x="130.7" y="781.3" width="12.0" height="10.4" fill="#003e00"/>
<rect x="142.7" y="740.0" width="12.0" height="30.9" fill="#04ff0a"/>
<rect x="142.7" y="770.9" width="12.0" height="10.4" fill="#008800"/>
<rect x="142.7" y="781.3" width="12.0" height="10.4" fill="#003e00"/>
<rect x="154.7" y="740.0" width="12.0" height="30.9" fill="#04ff0a"/>
<rect x="154.7" y="770.9" width="12.0" height="10.4" fill="#008800"/>
<rect x="154.7" y="781.3" width="12.0" height="10.4" fill="#003e00"/>
<rect x="178.7" y="750.1" width="12.0" height="62.4" fill="#04ff0a"/>
<rect x="178.7" y="812.5" width="12.0" height="10.4" fill="#008800"/>
<rect x="178.7" y="822.9" width="12.0" height="20.8" fill="#003e00"/>
<rect x="214.7" y="802.1" width="12.0" height="31.2" fill="#003e00"/>
<rect x="226.7" y="770.9" width="12.0" height="52.0" fill="#04ff0a"/>
<rect x="226.7" y="822.9" width="12.0" height="10.4" fill="#008800"/>
<rect x="226.7" y="833.3" width="12.0" height="20.8" fill="#003e00"/>
<rect x="238.7" y="750.1" width="12.0" height="31.2" fill="#04ff0a"/>
<rect x="238.7" y="781.3" width="12.0" height="10.4" fill="#008800"/>
<rect x="238.7" y="791.7" width="12.0" height="10.4" fill="#003e00"/>
<rect x="250.7" y="781.3" width="12.0" height="10.4" fill="#003e00"/>
<rect x="250.7" y="791.7" width="12.0" height="20.8" fill="#04ff0a"/>
<rect x="250.7" y="812.5" width="12.0" height="10.4" fill="#008800"/>
<rect x="250.7" y="822.9" width="12.0" height="20.8" fill="#003e00"/>
<rect x="262.7" y="750.1" width="12.0" height="41.6" fill="#04ff0a"/>
<rect x="262.7" y="791.7" width="12.0" height="10.4" fill="#008800"/>
<rect x="262.7" y="802.1" width="12.0" height="10.4" fill="#003e00"/>
<rect x="286.7" y="750.1" width="12.0" height="10.4" fill="#003e00"/>
<rect x="286.7" y="760.5" width="12.0" height="52.0" fill="#04ff0a"/>
<rect x="286.7" y="812.5" width="12.0" height="10.4" fill="#008800"/>
<rect x="286.7" y="822.9" width="12.0" height="20.8" fill="#003e00"/>
<rect x="298.7" y="760.5" width="12.0" height="10.4" fill="#003e00"/>
<rect x="298.7" y="770.9" width="12.0" height="10.4" fill="#008800"/>
<rect x="298.7" y="781.3" width="12.0" height="31.2" fill="#04ff0a"/>
<rect x="298.7" y="812.5" width="12.0" height="10.4" fill="#008800"/>
<rect x="298.7" y="822.9" width="12.0" height="20.8" fill="#003e00"/>
<rect x="322.7" y="750.1" width="12.0" height="10.4" fill="#003e00"/>
<rect x="322.7" y="760.5" width="12.0" height="62.4" fill="#04ff0a"/>
<rect x="322.7" y="822.9" width="12.0" height="10.4" fill="#008800"/>
<rect x="322.7" y="833.3" width="12.0" height="10.4" fill="#003e00"/>
<rect x="334.7" y="760.5" width="12.0" height="41.6" fill="#003e00"/>
<rect x="346.7" y="760.5" width="12.0" height="10.4" fill="#003e00"/>
<rect x="346.7" y="770.9" width="12.0" height="10.4" fill="#008800"/>
<rect x="346.7" y="781.3" width="12.0" height="31.2" fill="#04ff0a"/>
<rect x="346.7" y="812.5" width="12.0" height="10.4" fill="#008800"/>
<rect x="346.7" y="822.9" width="12.0" height="20.8" fill="#003e00"/>
<rect x="370.7" y="750.1" width="12.0" height="31.2" fill="#04ff0a"/>
<rect x="370.7" y="781.3" width="12.0" height="10.4" fill="#008800"/>
<rect x="370.7" y="791.7" width="12.0" height="20.8" fill="#003e00"/>
<rect x="442.7" y="760.5" width="12.0" height="31.2" fill="#003e00"/>
<rect x="466.7" y="750.1" width="12.0" height="10.4" fill="#003e00"/>
<rect x="466.7" y="760.5" width="12.0" height="20.8" fill="#008800"/>
<rect x="466.7" y="781.3" width="12.0" height="20.8" fill="#003e00"/>
<rect x="478.7" y="781.3" width="12.0" height="10.4" fill="#008800"/>
<rect x="478.7" y="791.7" width="12.0" height="20.8" fill="#04ff0a"/>
<rect x="478.7" y="812.5" width="12.0" height="10.4" fill="#008800"/>
<rect x="478.7" y="822.9" width="12.0" height="10.4" fill="#003e00"/>
<rect x="502.7" y="750.1" width="12.0" height="20.8" fill="#04ff0a"/>
<rect x="502.7" y="770.9" width="12.0" height="10.4" fill="#008800"/>
<rect x="502.7" y="781.3" width="12.0" height="20.8" fill="#003e00"/>
<rect x="514.7" y="760.5" width="12.0" height="31.2" fill="#003e00"/>
<rect x="586.7" y="750.1" width="12.0" height="31.2" fill="#04ff0a"/>
<rect x="586.7" y="781.3" width="12.0" height="10.4" fill="#008800"/>
<rect x="586.7" y="791.7" width="12.0" height="20.8" fill="#003e00"/>
<rect x="598.7" y="750.1" width="12.0" height="31.2" fill="#04ff0a"/>
<rect x="598.7" y="781.3" width="12.0" height="10.4" fill="#008800"/>
<rect x="598.7" y="791.7" width="12.0" height="10.4" fill="#003e00"/>
<rect x="622.7" y="750.1" width="12.0" height="31.2" fill="#04ff0a"/>
<rect x="622.7" y="781.3" width="12.0" height="10.4" fill="#008800"/>
<rect x="622.7" y="791.7" width="12.0" height="10.4" fill="#003e00"/>
<rect x="634.7" y="760.5" width="12.0" height="10.4" fill="#003e00"/>
<rect x="634.7" y="770.9" width="12.0" height="52.0" fill="#04ff0a"/>
<rect x="634.7" y="822.9" width="12.0" height="10.4" fill="#008800"/>
<rect x="634.7" y="833.3" width="12.0" height="10.4" fill="#003e00"/>
<rect x="670.7" y="750.1" width="12.0" height="31.2" fill="#04ff0a"/>
<rect x="670.7" y="781.3" width="12.0" height="10.4" fill="#008800"/>
<rect x="670.7" y="791.7" width="12.0" height="10.4" fill="#003e00"/>
<rect x="682.7" y="750.1" width="12.0" height="31.2" fill="#04ff0a"/>
<rect x="682.7" y="781.3" width="12.0" height="10.4" fill="#008800"/>
<rect x="682.7" y="791.7" width="12.0" height="20.8" fill="#003e00"/>
</g>
<text x="44.3" y="810.9" font-size="14.5" font-weight="bold" letter-spacing="0.6" font-family="Liberation Sans, sans-serif">ETI</text>
<rect x="71.8" y="872.4" width="630.4" height="127.3" fill="#000"/>
<g shape-rendering="crispEdges">
<rect x="72.3" y="883.4" width="12.0" height="52.0" fill="#04ff0a"/>
<rect x="72.3" y="935.4" width="12.0" height="10.4" fill="#008800"/>
<rect x="72.3" y="945.8" width="12.0" height="10.4" fill="#003e00"/>
<rect x="84.3" y="883.4" width="12.0" height="41.6" fill="#04ff0a"/>
<rect x="84.3" y="925.0" width="12.0" height="10.4" fill="#008800"/>
<rect x="84.3" y="935.4" width="12.0" height="10.4" fill="#003e00"/>
<rect x="96.3" y="883.4" width="12.0" height="31.2" fill="#04ff0a"/>
<rect x="96.3" y="914.6" width="12.0" height="10.4" fill="#008800"/>
<rect x="96.3" y="925.0" width="12.0" height="10.4" fill="#003e00"/>
<rect x="120.3" y="873.0" width="12.0" height="31.2" fill="#04ff0a"/>
<rect x="120.3" y="904.2" width="12.0" height="10.4" fill="#008800"/>
<rect x="120.3" y="914.6" width="12.0" height="10.4" fill="#003e00"/>
<rect x="132.3" y="873.0" width="12.0" height="31.2" fill="#04ff0a"/>
<rect x="132.3" y="904.2" width="12.0" height="10.4" fill="#008800"/>
<rect x="132.3" y="914.6" width="12.0" height="10.4" fill="#003e00"/>
<rect x="144.3" y="873.0" width="12.0" height="31.2" fill="#04ff0a"/>
<rect x="144.3" y="904.2" width="12.0" height="10.4" fill="#008800"/>
<rect x="144.3" y="914.6" width="12.0" height="10.4" fill="#003e00"/>
<rect x="156.3" y="873.0" width="12.0" height="31.2" fill="#04ff0a"/>
<rect x="156.3" y="904.2" width="12.0" height="10.4" fill="#008800"/>
<rect x="156.3" y="914.6" width="12.0" height="10.4" fill="#003e00"/>
<rect x="180.3" y="883.4" width="12.0" height="52.0" fill="#04ff0a"/>
<rect x="180.3" y="935.4" width="12.0" height="10.4" fill="#008800"/>
<rect x="180.3" y="945.8" width="12.0" height="20.8" fill="#003e00"/>
<rect x="228.3" y="893.8" width="12.0" height="10.4" fill="#003e00"/>
<rect x="228.3" y="904.2" width="12.0" height="41.6" fill="#04ff0a"/>
<rect x="228.3" y="945.8" width="12.0" height="10.4" fill="#008800"/>
<rect x="228.3" y="956.2" width="12.0" height="20.8" fill="#003e00"/>
<rect x="240.3" y="883.4" width="12.0" height="31.2" fill="#04ff0a"/>
<rect x="240.3" y="914.6" width="12.0" height="10.4" fill="#008800"/>
<rect x="240.3" y="925.0" width="12.0" height="10.4" fill="#003e00"/>
<rect x="252.3" y="914.6" width="12.0" height="41.6" fill="#003e00"/>
<rect x="264.3" y="883.4" width="12.0" height="41.6" fill="#04ff0a"/>
<rect x="264.3" y="925.0" width="12.0" height="10.4" fill="#008800"/>
<rect x="264.3" y="935.4" width="12.0" height="10.4" fill="#003e00"/>
<rect x="288.3" y="883.4" width="12.0" height="10.4" fill="#003e00"/>
<rect x="288.3" y="893.8" width="12.0" height="52.0" fill="#04ff0a"/>
<rect x="288.3" y="945.8" width="12.0" height="10.4" fill="#008800"/>
<rect x="288.3" y="956.2" width="12.0" height="10.4" fill="#003e00"/>
<rect x="300.3" y="904.2" width="12.0" height="10.4" fill="#003e00"/>
<rect x="300.3" y="914.6" width="12.0" height="20.8" fill="#008800"/>
<rect x="300.3" y="935.4" width="12.0" height="20.8" fill="#003e00"/>
<rect x="324.3" y="883.4" width="12.0" height="10.4" fill="#003e00"/>
<rect x="324.3" y="893.8" width="12.0" height="52.0" fill="#04ff0a"/>
<rect x="324.3" y="945.8" width="12.0" height="10.4" fill="#008800"/>
<rect x="324.3" y="956.2" width="12.0" height="10.4" fill="#003e00"/>
<rect x="336.3" y="893.8" width="12.0" height="10.4" fill="#003e00"/>
<rect x="336.3" y="904.2" width="12.0" height="10.4" fill="#008800"/>
<rect x="336.3" y="914.6" width="12.0" height="20.8" fill="#003e00"/>
<rect x="348.3" y="893.8" width="12.0" height="10.4" fill="#003e00"/>
<rect x="348.3" y="904.2" width="12.0" height="10.4" fill="#008800"/>
<rect x="348.3" y="914.6" width="12.0" height="20.8" fill="#04ff0a"/>
<rect x="348.3" y="935.4" width="12.0" height="10.4" fill="#008800"/>
<rect x="348.3" y="945.8" width="12.0" height="20.8" fill="#003e00"/>
<rect x="372.3" y="883.4" width="12.0" height="41.6" fill="#04ff0a"/>
<rect x="372.3" y="925.0" width="12.0" height="20.8" fill="#003e00"/>
<rect x="444.3" y="893.8" width="12.0" height="10.4" fill="#003e00"/>
<rect x="444.3" y="904.2" width="12.0" height="10.4" fill="#008800"/>
<rect x="444.3" y="914.6" width="12.0" height="10.4" fill="#003e00"/>
<rect x="468.3" y="883.4" width="12.0" height="10.4" fill="#003e00"/>
<rect x="468.3" y="893.8" width="12.0" height="20.8" fill="#04ff0a"/>
<rect x="468.3" y="914.6" width="12.0" height="10.4" fill="#008800"/>
<rect x="468.3" y="925.0" width="12.0" height="10.4" fill="#003e00"/>
<rect x="480.3" y="914.6" width="12.0" height="10.4" fill="#003e00"/>
<rect x="480.3" y="925.0" width="12.0" height="10.4" fill="#008800"/>
<rect x="480.3" y="935.4" width="12.0" height="20.8" fill="#003e00"/>
<rect x="504.3" y="883.4" width="12.0" height="20.8" fill="#04ff0a"/>
<rect x="504.3" y="904.2" width="12.0" height="10.4" fill="#008800"/>
<rect x="504.3" y="914.6" width="12.0" height="20.8" fill="#003e00"/>
<rect x="516.3" y="893.8" width="12.0" height="31.2" fill="#003e00"/>
<rect x="588.3" y="883.4" width="12.0" height="31.2" fill="#04ff0a"/>
<rect x="588.3" y="914.6" width="12.0" height="10.4" fill="#008800"/>
<rect x="588.3" y="925.0" width="12.0" height="20.8" fill="#003e00"/>
<rect x="600.3" y="883.4" width="12.0" height="31.2" fill="#04ff0a"/>
<rect x="600.3" y="914.6" width="12.0" height="10.4" fill="#008800"/>
<rect x="600.3" y="925.0" width="12.0" height="10.4" fill="#003e00"/>
<rect x="624.3" y="883.4" width="12.0" height="31.2" fill="#04ff0a"/>
<rect x="624.3" y="914.6" width="12.0" height="10.4" fill="#008800"/>
<rect x="624.3" y="925.0" width="12.0" height="10.4" fill="#003e00"/>
<rect x="636.3" y="893.8" width="12.0" height="10.4" fill="#003e00"/>
<rect x="636.3" y="904.2" width="12.0" height="41.6" fill="#04ff0a"/>
<rect x="636.3" y="945.8" width="12.0" height="10.4" fill="#008800"/>
<rect x="636.3" y="956.2" width="12.0" height="20.8" fill="#003e00"/>
<rect x="672.3" y="883.4" width="12.0" height="31.2" fill="#04ff0a"/>
<rect x="672.3" y="914.6" width="12.0" height="10.4" fill="#008800"/>
<rect x="672.3" y="925.0" width="12.0" height="10.4" fill="#003e00"/>
<rect x="684.3" y="883.4" width="12.0" height="31.2" fill="#04ff0a"/>
<rect x="684.3" y="914.6" width="12.0" height="10.4" fill="#008800"/>
<rect x="684.3" y="925.0" width="12.0" height="20.8" fill="#003e00"/>
</g>
<text x="41.6" y="941.6" font-size="14.5" font-weight="bold" letter-spacing="0.6" font-family="Liberation Sans, sans-serif">ETI</text>
<text x="66.8" y="937.9" font-size="9" font-weight="bold" font-family="Liberation Sans, sans-serif">*</text>
<rect x="108.0" y="872.0" width="11.6" height="12.3" fill="#fff"/>
<text x="113.7" y="885.8" font-size="15.5" font-weight="bold" fill="#e00010" text-anchor="middle" font-family="Liberation Sans, sans-serif">*</text>
<defs><linearGradient id="gr" x1="0" y1="0" x2="0" y2="1"><stop offset="0" stop-color="#0a140a"/><stop offset="0.5" stop-color="#0a6a0a"/><stop offset="1" stop-color="#10f410"/></linearGradient></defs>
<rect x="725.2" y="605.6" width="5.4" height="127.7" fill="url(#gr)"/>
<text transform="translate(716.0,607.4) rotate(90)" font-size="10" font-family="Liberation Serif, serif">0</text>
<text transform="translate(715.8,714.4) rotate(90)" font-size="10" font-family="Liberation Serif, serif">0.08</text>
<text transform="translate(706.6,678.8) rotate(90)" font-size="13" font-weight="bold" text-anchor="middle" font-family="Liberation Serif, serif">Activity</text>
<rect x="725.2" y="740.3" width="5.4" height="126.1" fill="url(#gr)"/>
<text transform="translate(713.4,739.7) rotate(90)" font-size="10" font-family="Liberation Serif, serif">0</text>
<text transform="translate(714.2,852.0) rotate(90)" font-size="10" font-family="Liberation Serif, serif">0.08</text>
<text transform="translate(706.6,804.2) rotate(90)" font-size="13" font-weight="bold" text-anchor="middle" font-family="Liberation Serif, serif">Activity</text>
<rect x="725.2" y="872.9" width="5.4" height="129.1" fill="url(#gr)"/>
<text transform="translate(715.0,872.2) rotate(90)" font-size="10" font-family="Liberation Serif, serif">0</text>
<text transform="translate(714.6,983.0) rotate(90)" font-size="10" font-family="Liberation Serif, serif">0.08</text>
<text transform="translate(706.6,943.8) rotate(90)" font-size="13" font-weight="bold" text-anchor="middle" font-family="Liberation Serif, serif">Activity</text>
</svg></body></html>
